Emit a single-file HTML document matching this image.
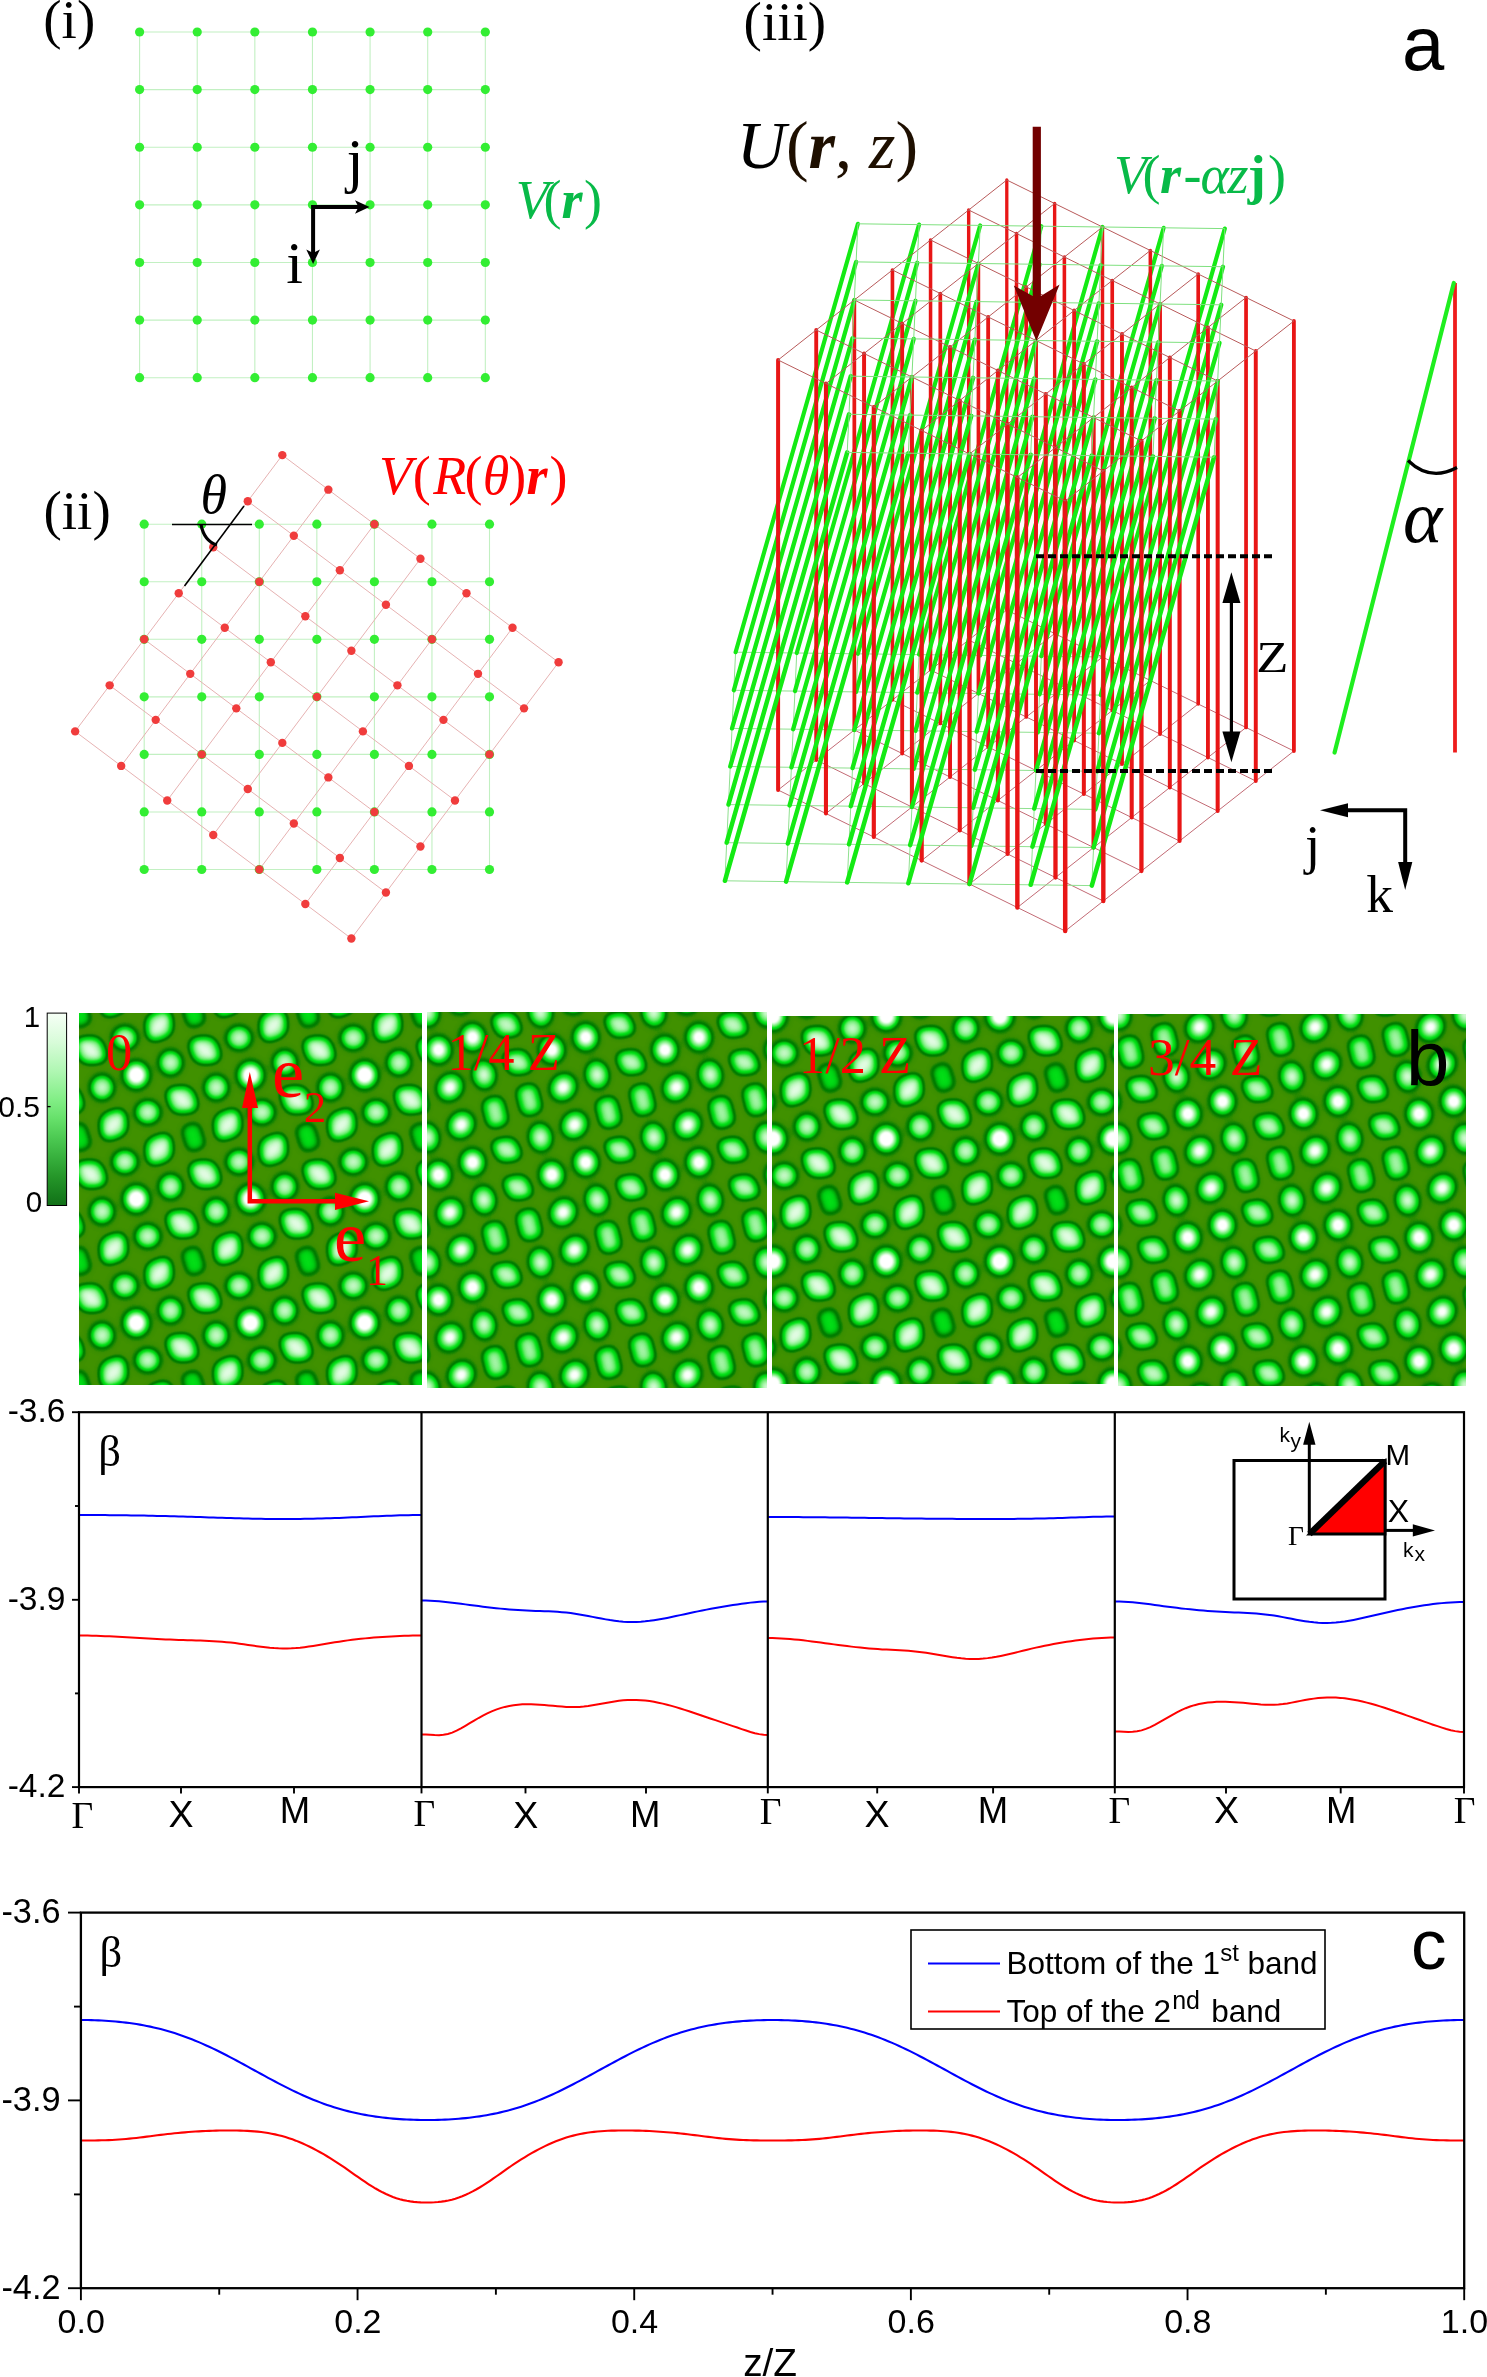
<!DOCTYPE html>
<html><head><meta charset="utf-8"><title>figure</title><style>
html,body{margin:0;padding:0;background:#fff;}
svg{display:block;}
.gr{stroke:#14ea14;}
.rr{stroke:#e81616;}
</style></head>
<body><svg width="1487" height="2377" viewBox="0 0 1487 2377">
<rect width="1487" height="2377" fill="#fff"/>
<g id="pa"><g stroke="#c2f0c2" stroke-width="1.1" fill="none"><line x1="139.6" y1="32" x2="485.32" y2="32"/><line x1="139.6" y1="32" x2="139.6" y2="377.72"/><line x1="139.6" y1="89.62" x2="485.32" y2="89.62"/><line x1="197.22" y1="32" x2="197.22" y2="377.72"/><line x1="139.6" y1="147.24" x2="485.32" y2="147.24"/><line x1="254.84" y1="32" x2="254.84" y2="377.72"/><line x1="139.6" y1="204.86" x2="485.32" y2="204.86"/><line x1="312.46" y1="32" x2="312.46" y2="377.72"/><line x1="139.6" y1="262.48" x2="485.32" y2="262.48"/><line x1="370.08" y1="32" x2="370.08" y2="377.72"/><line x1="139.6" y1="320.1" x2="485.32" y2="320.1"/><line x1="427.7" y1="32" x2="427.7" y2="377.72"/><line x1="139.6" y1="377.72" x2="485.32" y2="377.72"/><line x1="485.32" y1="32" x2="485.32" y2="377.72"/></g><g fill="#33ee33"><circle cx="139.6" cy="32" r="4.6"/><circle cx="139.6" cy="89.62" r="4.6"/><circle cx="139.6" cy="147.24" r="4.6"/><circle cx="139.6" cy="204.86" r="4.6"/><circle cx="139.6" cy="262.48" r="4.6"/><circle cx="139.6" cy="320.1" r="4.6"/><circle cx="139.6" cy="377.72" r="4.6"/><circle cx="197.22" cy="32" r="4.6"/><circle cx="197.22" cy="89.62" r="4.6"/><circle cx="197.22" cy="147.24" r="4.6"/><circle cx="197.22" cy="204.86" r="4.6"/><circle cx="197.22" cy="262.48" r="4.6"/><circle cx="197.22" cy="320.1" r="4.6"/><circle cx="197.22" cy="377.72" r="4.6"/><circle cx="254.84" cy="32" r="4.6"/><circle cx="254.84" cy="89.62" r="4.6"/><circle cx="254.84" cy="147.24" r="4.6"/><circle cx="254.84" cy="204.86" r="4.6"/><circle cx="254.84" cy="262.48" r="4.6"/><circle cx="254.84" cy="320.1" r="4.6"/><circle cx="254.84" cy="377.72" r="4.6"/><circle cx="312.46" cy="32" r="4.6"/><circle cx="312.46" cy="89.62" r="4.6"/><circle cx="312.46" cy="147.24" r="4.6"/><circle cx="312.46" cy="204.86" r="4.6"/><circle cx="312.46" cy="262.48" r="4.6"/><circle cx="312.46" cy="320.1" r="4.6"/><circle cx="312.46" cy="377.72" r="4.6"/><circle cx="370.08" cy="32" r="4.6"/><circle cx="370.08" cy="89.62" r="4.6"/><circle cx="370.08" cy="147.24" r="4.6"/><circle cx="370.08" cy="204.86" r="4.6"/><circle cx="370.08" cy="262.48" r="4.6"/><circle cx="370.08" cy="320.1" r="4.6"/><circle cx="370.08" cy="377.72" r="4.6"/><circle cx="427.7" cy="32" r="4.6"/><circle cx="427.7" cy="89.62" r="4.6"/><circle cx="427.7" cy="147.24" r="4.6"/><circle cx="427.7" cy="204.86" r="4.6"/><circle cx="427.7" cy="262.48" r="4.6"/><circle cx="427.7" cy="320.1" r="4.6"/><circle cx="427.7" cy="377.72" r="4.6"/><circle cx="485.32" cy="32" r="4.6"/><circle cx="485.32" cy="89.62" r="4.6"/><circle cx="485.32" cy="147.24" r="4.6"/><circle cx="485.32" cy="204.86" r="4.6"/><circle cx="485.32" cy="262.48" r="4.6"/><circle cx="485.32" cy="320.1" r="4.6"/><circle cx="485.32" cy="377.72" r="4.6"/></g>
<g stroke="#c2f0c2" stroke-width="1.1" fill="none"><line x1="144.2" y1="524.2" x2="489.5" y2="524.2"/><line x1="144.2" y1="524.2" x2="144.2" y2="869.5"/><line x1="144.2" y1="581.75" x2="489.5" y2="581.75"/><line x1="201.75" y1="524.2" x2="201.75" y2="869.5"/><line x1="144.2" y1="639.3" x2="489.5" y2="639.3"/><line x1="259.3" y1="524.2" x2="259.3" y2="869.5"/><line x1="144.2" y1="696.85" x2="489.5" y2="696.85"/><line x1="316.85" y1="524.2" x2="316.85" y2="869.5"/><line x1="144.2" y1="754.4" x2="489.5" y2="754.4"/><line x1="374.4" y1="524.2" x2="374.4" y2="869.5"/><line x1="144.2" y1="811.95" x2="489.5" y2="811.95"/><line x1="431.95" y1="524.2" x2="431.95" y2="869.5"/><line x1="144.2" y1="869.5" x2="489.5" y2="869.5"/><line x1="489.5" y1="524.2" x2="489.5" y2="869.5"/></g><g fill="#33ee33"><circle cx="144.2" cy="524.2" r="4.6"/><circle cx="144.2" cy="581.75" r="4.6"/><circle cx="144.2" cy="639.3" r="4.6"/><circle cx="144.2" cy="696.85" r="4.6"/><circle cx="144.2" cy="754.4" r="4.6"/><circle cx="144.2" cy="811.95" r="4.6"/><circle cx="144.2" cy="869.5" r="4.6"/><circle cx="201.75" cy="524.2" r="4.6"/><circle cx="201.75" cy="581.75" r="4.6"/><circle cx="201.75" cy="639.3" r="4.6"/><circle cx="201.75" cy="696.85" r="4.6"/><circle cx="201.75" cy="754.4" r="4.6"/><circle cx="201.75" cy="811.95" r="4.6"/><circle cx="201.75" cy="869.5" r="4.6"/><circle cx="259.3" cy="524.2" r="4.6"/><circle cx="259.3" cy="581.75" r="4.6"/><circle cx="259.3" cy="639.3" r="4.6"/><circle cx="259.3" cy="696.85" r="4.6"/><circle cx="259.3" cy="754.4" r="4.6"/><circle cx="259.3" cy="811.95" r="4.6"/><circle cx="259.3" cy="869.5" r="4.6"/><circle cx="316.85" cy="524.2" r="4.6"/><circle cx="316.85" cy="581.75" r="4.6"/><circle cx="316.85" cy="639.3" r="4.6"/><circle cx="316.85" cy="696.85" r="4.6"/><circle cx="316.85" cy="754.4" r="4.6"/><circle cx="316.85" cy="811.95" r="4.6"/><circle cx="316.85" cy="869.5" r="4.6"/><circle cx="374.4" cy="524.2" r="4.6"/><circle cx="374.4" cy="581.75" r="4.6"/><circle cx="374.4" cy="639.3" r="4.6"/><circle cx="374.4" cy="696.85" r="4.6"/><circle cx="374.4" cy="754.4" r="4.6"/><circle cx="374.4" cy="811.95" r="4.6"/><circle cx="374.4" cy="869.5" r="4.6"/><circle cx="431.95" cy="524.2" r="4.6"/><circle cx="431.95" cy="581.75" r="4.6"/><circle cx="431.95" cy="639.3" r="4.6"/><circle cx="431.95" cy="696.85" r="4.6"/><circle cx="431.95" cy="754.4" r="4.6"/><circle cx="431.95" cy="811.95" r="4.6"/><circle cx="431.95" cy="869.5" r="4.6"/><circle cx="489.5" cy="524.2" r="4.6"/><circle cx="489.5" cy="581.75" r="4.6"/><circle cx="489.5" cy="639.3" r="4.6"/><circle cx="489.5" cy="696.85" r="4.6"/><circle cx="489.5" cy="754.4" r="4.6"/><circle cx="489.5" cy="811.95" r="4.6"/><circle cx="489.5" cy="869.5" r="4.6"/></g><g stroke="#e6b2b2" stroke-width="1.0" fill="none"><line x1="282.32" y1="455.14" x2="558.56" y2="662.32"/><line x1="282.32" y1="455.14" x2="75.14" y2="731.38"/><line x1="247.79" y1="501.18" x2="524.03" y2="708.36"/><line x1="328.36" y1="489.67" x2="121.18" y2="765.91"/><line x1="213.26" y1="547.22" x2="489.5" y2="754.4"/><line x1="374.4" y1="524.2" x2="167.22" y2="800.44"/><line x1="178.73" y1="593.26" x2="454.97" y2="800.44"/><line x1="420.44" y1="558.73" x2="213.26" y2="834.97"/><line x1="144.2" y1="639.3" x2="420.44" y2="846.48"/><line x1="466.48" y1="593.26" x2="259.3" y2="869.5"/><line x1="109.67" y1="685.34" x2="385.91" y2="892.52"/><line x1="512.52" y1="627.79" x2="305.34" y2="904.03"/><line x1="75.14" y1="731.38" x2="351.38" y2="938.56"/><line x1="558.56" y1="662.32" x2="351.38" y2="938.56"/></g><g fill="#f03c3c"><circle cx="282.32" cy="455.14" r="4.2"/><circle cx="247.79" cy="501.18" r="4.2"/><circle cx="213.26" cy="547.22" r="4.2"/><circle cx="178.73" cy="593.26" r="4.2"/><circle cx="144.2" cy="639.3" r="4.2"/><circle cx="109.67" cy="685.34" r="4.2"/><circle cx="75.14" cy="731.38" r="4.2"/><circle cx="328.36" cy="489.67" r="4.2"/><circle cx="293.83" cy="535.71" r="4.2"/><circle cx="259.3" cy="581.75" r="4.2"/><circle cx="224.77" cy="627.79" r="4.2"/><circle cx="190.24" cy="673.83" r="4.2"/><circle cx="155.71" cy="719.87" r="4.2"/><circle cx="121.18" cy="765.91" r="4.2"/><circle cx="374.4" cy="524.2" r="4.2"/><circle cx="339.87" cy="570.24" r="4.2"/><circle cx="305.34" cy="616.28" r="4.2"/><circle cx="270.81" cy="662.32" r="4.2"/><circle cx="236.28" cy="708.36" r="4.2"/><circle cx="201.75" cy="754.4" r="4.2"/><circle cx="167.22" cy="800.44" r="4.2"/><circle cx="420.44" cy="558.73" r="4.2"/><circle cx="385.91" cy="604.77" r="4.2"/><circle cx="351.38" cy="650.81" r="4.2"/><circle cx="316.85" cy="696.85" r="4.2"/><circle cx="282.32" cy="742.89" r="4.2"/><circle cx="247.79" cy="788.93" r="4.2"/><circle cx="213.26" cy="834.97" r="4.2"/><circle cx="466.48" cy="593.26" r="4.2"/><circle cx="431.95" cy="639.3" r="4.2"/><circle cx="397.42" cy="685.34" r="4.2"/><circle cx="362.89" cy="731.38" r="4.2"/><circle cx="328.36" cy="777.42" r="4.2"/><circle cx="293.83" cy="823.46" r="4.2"/><circle cx="259.3" cy="869.5" r="4.2"/><circle cx="512.52" cy="627.79" r="4.2"/><circle cx="477.99" cy="673.83" r="4.2"/><circle cx="443.46" cy="719.87" r="4.2"/><circle cx="408.93" cy="765.91" r="4.2"/><circle cx="374.4" cy="811.95" r="4.2"/><circle cx="339.87" cy="857.99" r="4.2"/><circle cx="305.34" cy="904.03" r="4.2"/><circle cx="558.56" cy="662.32" r="4.2"/><circle cx="524.03" cy="708.36" r="4.2"/><circle cx="489.5" cy="754.4" r="4.2"/><circle cx="454.97" cy="800.44" r="4.2"/><circle cx="420.44" cy="846.48" r="4.2"/><circle cx="385.91" cy="892.52" r="4.2"/><circle cx="351.38" cy="938.56" r="4.2"/></g>
<g stroke="#c26a74" stroke-width="1" fill="none"><line x1="1006.79" y1="610" x2="1293.9" y2="751"/><line x1="1006.79" y1="610" x2="778.1" y2="790"/><line x1="968.67" y1="640" x2="1255.78" y2="781"/><line x1="1054.64" y1="633.5" x2="825.95" y2="813.5"/><line x1="930.56" y1="670" x2="1217.67" y2="811"/><line x1="1102.49" y1="657" x2="873.81" y2="837"/><line x1="892.44" y1="700" x2="1179.56" y2="841"/><line x1="1150.34" y1="680.5" x2="921.66" y2="860.5"/><line x1="854.33" y1="730" x2="1141.44" y2="871"/><line x1="1198.19" y1="704" x2="969.51" y2="884"/><line x1="816.22" y1="760" x2="1103.33" y2="901"/><line x1="1246.05" y1="727.5" x2="1017.36" y2="907.5"/><line x1="778.1" y1="790" x2="1065.21" y2="931"/><line x1="1293.9" y1="751" x2="1065.21" y2="931"/></g><g stroke="#8fe08f" stroke-width="1" fill="none"><line x1="735.59" y1="652.2" x2="1102.49" y2="657"/><line x1="735.59" y1="652.2" x2="724.91" y2="880.8"/><line x1="733.81" y1="690.3" x2="1100.71" y2="695.1"/><line x1="796.74" y1="653" x2="786.06" y2="881.6"/><line x1="732.03" y1="728.4" x2="1098.93" y2="733.2"/><line x1="857.89" y1="653.8" x2="847.21" y2="882.4"/><line x1="730.25" y1="766.5" x2="1097.15" y2="771.3"/><line x1="919.04" y1="654.6" x2="908.36" y2="883.2"/><line x1="728.47" y1="804.6" x2="1095.37" y2="809.4"/><line x1="980.19" y1="655.4" x2="969.51" y2="884"/><line x1="726.69" y1="842.7" x2="1093.59" y2="847.5"/><line x1="1041.34" y1="656.2" x2="1030.66" y2="884.8"/><line x1="724.91" y1="880.8" x2="1091.81" y2="885.6"/><line x1="1102.49" y1="657" x2="1091.81" y2="885.6"/></g><g stroke-linecap="round" fill="none"><line class="rr" stroke-width="3.29" x1="1006.79" y1="180" x2="1006.79" y2="610"/><line class="rr" stroke-width="3.38" x1="1054.64" y1="203.5" x2="1054.64" y2="633.5"/><line class="rr" stroke-width="3.41" x1="968.67" y1="210" x2="968.67" y2="640"/><line class="rr" stroke-width="3.46" x1="1102.49" y1="227" x2="1102.49" y2="657"/><line class="gr" stroke-width="4.17" x1="857.89" y1="223.8" x2="735.59" y2="652.2"/><line class="gr" stroke-width="4.17" x1="919.04" y1="224.6" x2="796.74" y2="653"/><line class="gr" stroke-width="4.17" x1="980.19" y1="225.4" x2="857.89" y2="653.8"/><line class="gr" stroke-width="4.17" x1="1041.34" y1="226.2" x2="919.04" y2="654.6"/><line class="gr" stroke-width="4.17" x1="1102.49" y1="227" x2="980.19" y2="655.4"/><line class="gr" stroke-width="4.17" x1="1163.64" y1="227.8" x2="1041.34" y2="656.2"/><line class="gr" stroke-width="4.17" x1="1224.79" y1="228.6" x2="1102.49" y2="657"/><line class="rr" stroke-width="3.49" x1="1016.52" y1="233.5" x2="1016.52" y2="663.5"/><line class="rr" stroke-width="3.52" x1="930.56" y1="240" x2="930.56" y2="670"/><line class="rr" stroke-width="3.55" x1="1150.34" y1="250.5" x2="1150.34" y2="680.5"/><line class="rr" stroke-width="3.58" x1="1064.38" y1="257" x2="1064.38" y2="687"/><line class="rr" stroke-width="3.61" x1="978.41" y1="263.5" x2="978.41" y2="693.5"/><line class="gr" stroke-width="4.23" x1="856.11" y1="261.9" x2="733.81" y2="690.3"/><line class="gr" stroke-width="4.23" x1="917.26" y1="262.7" x2="794.96" y2="691.1"/><line class="gr" stroke-width="4.23" x1="978.41" y1="263.5" x2="856.11" y2="691.9"/><line class="gr" stroke-width="4.23" x1="1039.56" y1="264.3" x2="917.26" y2="692.7"/><line class="gr" stroke-width="4.23" x1="1100.71" y1="265.1" x2="978.41" y2="693.5"/><line class="gr" stroke-width="4.23" x1="1161.86" y1="265.9" x2="1039.56" y2="694.3"/><line class="gr" stroke-width="4.23" x1="1223.01" y1="266.7" x2="1100.71" y2="695.1"/><line class="rr" stroke-width="3.64" x1="1198.19" y1="274" x2="1198.19" y2="704"/><line class="rr" stroke-width="3.64" x1="892.44" y1="270" x2="892.44" y2="700"/><line class="rr" stroke-width="3.67" x1="1112.23" y1="280.5" x2="1112.23" y2="710.5"/><line class="rr" stroke-width="3.70" x1="1026.26" y1="287" x2="1026.26" y2="717"/><line class="rr" stroke-width="3.73" x1="1246.05" y1="297.5" x2="1246.05" y2="727.5"/><line class="rr" stroke-width="3.73" x1="940.3" y1="293.5" x2="940.3" y2="723.5"/><line class="rr" stroke-width="3.75" x1="1160.08" y1="304" x2="1160.08" y2="734"/><line class="rr" stroke-width="3.75" x1="854.33" y1="300" x2="854.33" y2="730"/><line class="gr" stroke-width="4.29" x1="854.33" y1="300" x2="732.03" y2="728.4"/><line class="gr" stroke-width="4.29" x1="915.48" y1="300.8" x2="793.18" y2="729.2"/><line class="gr" stroke-width="4.29" x1="976.63" y1="301.6" x2="854.33" y2="730"/><line class="gr" stroke-width="4.29" x1="1037.78" y1="302.4" x2="915.48" y2="730.8"/><line class="gr" stroke-width="4.29" x1="1098.93" y1="303.2" x2="976.63" y2="731.6"/><line class="gr" stroke-width="4.29" x1="1160.08" y1="304" x2="1037.78" y2="732.4"/><line class="gr" stroke-width="4.29" x1="1221.23" y1="304.8" x2="1098.93" y2="733.2"/><line class="rr" stroke-width="3.78" x1="1074.11" y1="310.5" x2="1074.11" y2="740.5"/><line class="rr" stroke-width="3.81" x1="1293.9" y1="321" x2="1293.9" y2="751"/><line class="rr" stroke-width="3.81" x1="988.15" y1="317" x2="988.15" y2="747"/><line class="rr" stroke-width="3.84" x1="1207.93" y1="327.5" x2="1207.93" y2="757.5"/><line class="rr" stroke-width="3.84" x1="902.18" y1="323.5" x2="902.18" y2="753.5"/><line class="rr" stroke-width="3.87" x1="1121.97" y1="334" x2="1121.97" y2="764"/><line class="rr" stroke-width="3.87" x1="816.22" y1="330" x2="816.22" y2="760"/><line class="rr" stroke-width="3.90" x1="1036" y1="340.5" x2="1036" y2="770.5"/><line class="gr" stroke-width="4.35" x1="852.55" y1="338.1" x2="730.25" y2="766.5"/><line class="gr" stroke-width="4.35" x1="913.7" y1="338.9" x2="791.4" y2="767.3"/><line class="gr" stroke-width="4.35" x1="974.85" y1="339.7" x2="852.55" y2="768.1"/><line class="gr" stroke-width="4.35" x1="1036" y1="340.5" x2="913.7" y2="768.9"/><line class="gr" stroke-width="4.35" x1="1097.15" y1="341.3" x2="974.85" y2="769.7"/><line class="gr" stroke-width="4.35" x1="1158.3" y1="342.1" x2="1036" y2="770.5"/><line class="gr" stroke-width="4.35" x1="1219.45" y1="342.9" x2="1097.15" y2="771.3"/><line class="rr" stroke-width="3.93" x1="1255.78" y1="351" x2="1255.78" y2="781"/><line class="rr" stroke-width="3.93" x1="950.03" y1="347" x2="950.03" y2="777"/><line class="rr" stroke-width="3.96" x1="1169.82" y1="357.5" x2="1169.82" y2="787.5"/><line class="rr" stroke-width="3.96" x1="864.07" y1="353.5" x2="864.07" y2="783.5"/><line class="rr" stroke-width="3.99" x1="1083.85" y1="364" x2="1083.85" y2="794"/><line class="rr" stroke-width="3.99" x1="778.1" y1="360" x2="778.1" y2="790"/><line class="rr" stroke-width="4.02" x1="997.89" y1="370.5" x2="997.89" y2="800.5"/><line class="rr" stroke-width="4.04" x1="1217.67" y1="381" x2="1217.67" y2="811"/><line class="rr" stroke-width="4.04" x1="911.92" y1="377" x2="911.92" y2="807"/><line class="gr" stroke-width="4.41" x1="850.77" y1="376.2" x2="728.47" y2="804.6"/><line class="gr" stroke-width="4.41" x1="911.92" y1="377" x2="789.62" y2="805.4"/><line class="gr" stroke-width="4.41" x1="973.07" y1="377.8" x2="850.77" y2="806.2"/><line class="gr" stroke-width="4.41" x1="1034.22" y1="378.6" x2="911.92" y2="807"/><line class="gr" stroke-width="4.41" x1="1095.37" y1="379.4" x2="973.07" y2="807.8"/><line class="gr" stroke-width="4.41" x1="1156.52" y1="380.2" x2="1034.22" y2="808.6"/><line class="gr" stroke-width="4.41" x1="1217.67" y1="381" x2="1095.37" y2="809.4"/><line class="rr" stroke-width="4.07" x1="1131.7" y1="387.5" x2="1131.7" y2="817.5"/><line class="rr" stroke-width="4.07" x1="825.95" y1="383.5" x2="825.95" y2="813.5"/><line class="rr" stroke-width="4.10" x1="1045.74" y1="394" x2="1045.74" y2="824"/><line class="rr" stroke-width="4.13" x1="959.77" y1="400.5" x2="959.77" y2="830.5"/><line class="rr" stroke-width="4.16" x1="1179.56" y1="411" x2="1179.56" y2="841"/><line class="rr" stroke-width="4.16" x1="873.81" y1="407" x2="873.81" y2="837"/><line class="rr" stroke-width="4.19" x1="1093.59" y1="417.5" x2="1093.59" y2="847.5"/><line class="gr" stroke-width="4.47" x1="848.99" y1="414.3" x2="726.69" y2="842.7"/><line class="gr" stroke-width="4.47" x1="910.14" y1="415.1" x2="787.84" y2="843.5"/><line class="gr" stroke-width="4.47" x1="971.29" y1="415.9" x2="848.99" y2="844.3"/><line class="gr" stroke-width="4.47" x1="1032.44" y1="416.7" x2="910.14" y2="845.1"/><line class="gr" stroke-width="4.47" x1="1093.59" y1="417.5" x2="971.29" y2="845.9"/><line class="gr" stroke-width="4.47" x1="1154.74" y1="418.3" x2="1032.44" y2="846.7"/><line class="gr" stroke-width="4.47" x1="1215.89" y1="419.1" x2="1093.59" y2="847.5"/><line class="rr" stroke-width="4.22" x1="1007.62" y1="424" x2="1007.62" y2="854"/><line class="rr" stroke-width="4.25" x1="921.66" y1="430.5" x2="921.66" y2="860.5"/><line class="rr" stroke-width="4.28" x1="1141.44" y1="441" x2="1141.44" y2="871"/><line class="rr" stroke-width="4.31" x1="1055.48" y1="447.5" x2="1055.48" y2="877.5"/><line class="rr" stroke-width="4.33" x1="969.51" y1="454" x2="969.51" y2="884"/><line class="gr" stroke-width="4.53" x1="847.21" y1="452.4" x2="724.91" y2="880.8"/><line class="gr" stroke-width="4.53" x1="908.36" y1="453.2" x2="786.06" y2="881.6"/><line class="gr" stroke-width="4.53" x1="969.51" y1="454" x2="847.21" y2="882.4"/><line class="gr" stroke-width="4.53" x1="1030.66" y1="454.8" x2="908.36" y2="883.2"/><line class="gr" stroke-width="4.53" x1="1091.81" y1="455.6" x2="969.51" y2="884"/><line class="gr" stroke-width="4.53" x1="1152.96" y1="456.4" x2="1030.66" y2="884.8"/><line class="gr" stroke-width="4.53" x1="1214.11" y1="457.2" x2="1091.81" y2="885.6"/><line class="rr" stroke-width="4.39" x1="1103.33" y1="471" x2="1103.33" y2="901"/><line class="rr" stroke-width="4.42" x1="1017.36" y1="477.5" x2="1017.36" y2="907.5"/><line class="rr" stroke-width="4.51" x1="1065.21" y1="501" x2="1065.21" y2="931"/></g><g stroke="#b85a5a" stroke-width="1" fill="none"><line x1="1006.79" y1="180" x2="1293.9" y2="321"/><line x1="1006.79" y1="180" x2="778.1" y2="360"/><line x1="968.67" y1="210" x2="1255.78" y2="351"/><line x1="1054.64" y1="203.5" x2="825.95" y2="383.5"/><line x1="930.56" y1="240" x2="1217.67" y2="381"/><line x1="1102.49" y1="227" x2="873.81" y2="407"/><line x1="892.44" y1="270" x2="1179.56" y2="411"/><line x1="1150.34" y1="250.5" x2="921.66" y2="430.5"/><line x1="854.33" y1="300" x2="1141.44" y2="441"/><line x1="1198.19" y1="274" x2="969.51" y2="454"/><line x1="816.22" y1="330" x2="1103.33" y2="471"/><line x1="1246.05" y1="297.5" x2="1017.36" y2="477.5"/><line x1="778.1" y1="360" x2="1065.21" y2="501"/><line x1="1293.9" y1="321" x2="1065.21" y2="501"/></g><g stroke="#7fe07f" stroke-width="1" fill="none"><line x1="857.89" y1="223.8" x2="1224.79" y2="228.6"/><line x1="857.89" y1="223.8" x2="847.21" y2="452.4"/><line x1="856.11" y1="261.9" x2="1223.01" y2="266.7"/><line x1="919.04" y1="224.6" x2="908.36" y2="453.2"/><line x1="854.33" y1="300" x2="1221.23" y2="304.8"/><line x1="980.19" y1="225.4" x2="969.51" y2="454"/><line x1="852.55" y1="338.1" x2="1219.45" y2="342.9"/><line x1="1041.34" y1="226.2" x2="1030.66" y2="454.8"/><line x1="850.77" y1="376.2" x2="1217.67" y2="381"/><line x1="1102.49" y1="227" x2="1091.81" y2="455.6"/><line x1="848.99" y1="414.3" x2="1215.89" y2="419.1"/><line x1="1163.64" y1="227.8" x2="1152.96" y2="456.4"/><line x1="847.21" y1="452.4" x2="1214.11" y2="457.2"/><line x1="1224.79" y1="228.6" x2="1214.11" y2="457.2"/></g>
<text x="43.3" y="38" fill="#000" text-anchor="start" style="font-family:'Liberation Serif',serif;font-size:55px;" >(i)</text>
<text x="43.5" y="528.6" fill="#000" text-anchor="start" style="font-family:'Liberation Serif',serif;font-size:55px;" >(ii)</text>
<text x="743.6" y="39.5" fill="#000" text-anchor="start" style="font-family:'Liberation Serif',serif;font-size:55px;" >(iii)</text>
<text x="1402" y="69.6" fill="#000" text-anchor="start" style="font-family:'Liberation Sans',sans-serif;font-size:76px;" >a</text>
<g stroke="#000" stroke-width="4" fill="none"><path d="M359 207 H313.1 V253"/></g>
<path d="M369.5 207 L355 200.2 L358.5 207 L355 213.8 Z" fill="#000"/>
<path d="M313.1 264 L306.3 249.5 L313.1 253 L319.9 249.5 Z" fill="#000"/>
<text x="346.6" y="180.6" fill="#000" text-anchor="start" style="font-family:'Liberation Serif',serif;font-size:61.5px;" >j</text>
<text x="286.2" y="283" fill="#000" text-anchor="start" style="font-family:'Liberation Serif',serif;font-size:60px;" >i</text>
<text y="218.4" fill="#08ba48" style="font-family:'Liberation Serif',serif;font-size:54px;"><tspan x="515.7" font-style="italic">V</tspan><tspan x="543.6">(</tspan><tspan x="561.5" font-style="italic" font-weight="bold">r</tspan><tspan x="584">)</tspan></text>
<text y="493.6" fill="#ff0000" style="font-family:'Liberation Serif',serif;font-size:54px;"><tspan x="379.1" font-style="italic">V</tspan><tspan x="412.7">(</tspan><tspan x="433.2" font-style="italic">R</tspan><tspan x="464.5">(</tspan><tspan x="482.7" font-style="italic">θ</tspan><tspan x="508.2">)</tspan><tspan x="526.5" font-style="italic" font-weight="bold">r</tspan><tspan x="549.6">)</tspan></text>
<text x="200.4" y="513" fill="#000" text-anchor="start" style="font-family:'Liberation Serif',serif;font-size:54px;font-style:italic;" >θ</text>
<g stroke="#000" stroke-width="1.6" fill="none"><line x1="172" y1="524.5" x2="252" y2="524.5"/><line x1="184.5" y1="586" x2="244" y2="506"/></g>
<path d="M201 524.5 Q204 541 217 545" stroke="#000" stroke-width="3.2" fill="none"/>
<text x="736.8" y="168" fill="#1e0f00" style="font-family:'Liberation Serif',serif;font-size:68px;"><tspan font-style="italic" fill="#000">U</tspan>(<tspan font-style="italic" font-weight="bold">r</tspan>, <tspan font-style="italic">z</tspan>)</text>
<text y="192.5" fill="#08ba48" style="font-family:'Liberation Serif',serif;font-size:54px;"><tspan x="1114.1" font-style="italic">V</tspan><tspan x="1142.6">(</tspan><tspan x="1160.1" font-style="italic" font-weight="bold">r</tspan><tspan x="1183.5">-</tspan><tspan x="1200.6" font-style="italic">α</tspan><tspan x="1227.6" font-style="italic">z</tspan><tspan x="1247.8" font-weight="bold">j</tspan><tspan x="1267.9">)</tspan></text>
<path d="M1032.7 126.7 H1040.9 V296 L1059.6 284.4 L1036.4 341 L1013.8 285.5 L1032.7 296 Z" fill="#730000"/>
<g stroke="#000" stroke-width="4" stroke-dasharray="8 4" fill="none"><line x1="1036" y1="556.2" x2="1273" y2="556.2"/><line x1="1036" y1="771.1" x2="1273" y2="771.1"/></g>
<line x1="1231.4" y1="598" x2="1231.4" y2="736" stroke="#000" stroke-width="3.2"/>
<path d="M1231.4 572.2 L1222.4 603 H1240.4 Z" fill="#000"/>
<path d="M1231.4 762.2 L1222.4 731.5 H1240.4 Z" fill="#000"/>
<text transform="translate(1256.3 672.2) scale(1.17 1)" style="font-family:'Liberation Serif',serif;font-size:45px;">Z</text>
<line x1="1455" y1="283" x2="1455" y2="752.5" stroke="#ee1c1c" stroke-width="3.8" stroke-linecap="butt"/>
<line x1="1453.8" y1="283" x2="1334.6" y2="752.5" stroke="#1fee1f" stroke-width="4.2" stroke-linecap="round"/>
<path d="M1408 460.5 Q1430 482 1457 467.5" stroke="#000" stroke-width="3.2" fill="none"/>
<text x="1403" y="542.3" fill="#000" text-anchor="start" style="font-family:'Liberation Serif',serif;font-size:75px;font-style:italic;" >α</text>
<g stroke="#000" stroke-width="4" fill="none"><path d="M1346 810.3 H1405.2 V864"/></g>
<path d="M1320 810.3 L1348 803.3 V817.3 Z" fill="#000"/>
<path d="M1405.2 890 L1398.1 862 H1412.3 Z" fill="#000"/>
<text x="1304.9" y="862.5" fill="#000" text-anchor="start" style="font-family:'Liberation Serif',serif;font-size:55px;" >j</text>
<text x="1366.2" y="912.2" fill="#000" text-anchor="start" style="font-family:'Liberation Serif',serif;font-size:53.5px;" >k</text></g>
<g id="pb"><defs><filter id="cm" x="0" y="0" width="100%" height="100%" filterUnits="objectBoundingBox" color-interpolation-filters="sRGB">
<feGaussianBlur stdDeviation="1.3"/>
<feComponentTransfer><feFuncR type="table" tableValues="0.251 0.221 0.074 0.000 0.000 0.000 0.000 0.000 0.000 0.008 0.047 0.122 0.196 0.288 0.380 0.449 0.518 0.582 0.647 0.706 0.765 0.814 0.863 0.902 0.941 0.965 0.988 0.994 1.000 1.000 1.000 1.000 1.000 1.000 1.000 1.000 1.000 1.000 1.000 1.000 1.000"/><feFuncG type="table" tableValues="0.569 0.558 0.513 0.482 0.502 0.596 0.694 0.776 0.831 0.867 0.882 0.894 0.906 0.916 0.925 0.933 0.941 0.949 0.957 0.965 0.973 0.978 0.984 0.990 0.996 0.998 1.000 1.000 1.000 1.000 1.000 1.000 1.000 1.000 1.000 1.000 1.000 1.000 1.000 1.000 1.000"/><feFuncB type="table" tableValues="0.000 0.000 0.000 0.000 0.004 0.024 0.043 0.063 0.075 0.086 0.118 0.176 0.235 0.318 0.400 0.467 0.533 0.594 0.655 0.712 0.769 0.818 0.867 0.904 0.941 0.965 0.988 0.994 1.000 1.000 1.000 1.000 1.000 1.000 1.000 1.000 1.000 1.000 1.000 1.000 1.000"/><feFuncA type="linear" slope="0" intercept="1"/></feComponentTransfer>
</filter><radialGradient id="gW"><stop offset="0" stop-color="#fff" stop-opacity="1"/><stop offset="0.2532" stop-color="#fff" stop-opacity="0.65"/><stop offset="0.3376" stop-color="#fff" stop-opacity="0.47"/><stop offset="0.4219" stop-color="#fff" stop-opacity="0.35"/><stop offset="0.5148" stop-color="#fff" stop-opacity="0.22"/><stop offset="0.5781" stop-color="#fff" stop-opacity="0.12"/><stop offset="0.6160" stop-color="#fff" stop-opacity="0.09"/><stop offset="0.6751" stop-color="#fff" stop-opacity="0.06"/><stop offset="0.7257" stop-color="#fff" stop-opacity="0.04"/><stop offset="0.7890" stop-color="#fff" stop-opacity="0.03"/><stop offset="0.8734" stop-color="#fff" stop-opacity="0.01"/><stop offset="1.0000" stop-color="#fff" stop-opacity="0"/></radialGradient><radialGradient id="gM"><stop offset="0" stop-color="#fff" stop-opacity="0.52"/><stop offset="0.1927" stop-color="#fff" stop-opacity="0.46"/><stop offset="0.3486" stop-color="#fff" stop-opacity="0.36"/><stop offset="0.4725" stop-color="#fff" stop-opacity="0.22"/><stop offset="0.5413" stop-color="#fff" stop-opacity="0.12"/><stop offset="0.5826" stop-color="#fff" stop-opacity="0.09"/><stop offset="0.6468" stop-color="#fff" stop-opacity="0.06"/><stop offset="0.7018" stop-color="#fff" stop-opacity="0.04"/><stop offset="0.7706" stop-color="#fff" stop-opacity="0.03"/><stop offset="0.8624" stop-color="#fff" stop-opacity="0.01"/><stop offset="1.0000" stop-color="#fff" stop-opacity="0"/></radialGradient><radialGradient id="gL"><stop offset="0" stop-color="#fff" stop-opacity="0.58"/><stop offset="0.2091" stop-color="#fff" stop-opacity="0.52"/><stop offset="0.3802" stop-color="#fff" stop-opacity="0.42"/><stop offset="0.5627" stop-color="#fff" stop-opacity="0.22"/><stop offset="0.6198" stop-color="#fff" stop-opacity="0.12"/><stop offset="0.6540" stop-color="#fff" stop-opacity="0.09"/><stop offset="0.7072" stop-color="#fff" stop-opacity="0.06"/><stop offset="0.7529" stop-color="#fff" stop-opacity="0.04"/><stop offset="0.8099" stop-color="#fff" stop-opacity="0.03"/><stop offset="0.8859" stop-color="#fff" stop-opacity="0.01"/><stop offset="1.0000" stop-color="#fff" stop-opacity="0"/></radialGradient><radialGradient id="gD"><stop offset="0" stop-color="#fff" stop-opacity="0.21"/><stop offset="0.3509" stop-color="#fff" stop-opacity="0.2"/><stop offset="0.4956" stop-color="#fff" stop-opacity="0.16"/><stop offset="0.6053" stop-color="#fff" stop-opacity="0.09"/><stop offset="0.6667" stop-color="#fff" stop-opacity="0.06"/><stop offset="0.7193" stop-color="#fff" stop-opacity="0.04"/><stop offset="0.7807" stop-color="#fff" stop-opacity="0.03"/><stop offset="0.8684" stop-color="#fff" stop-opacity="0.01"/><stop offset="1.0000" stop-color="#fff" stop-opacity="0"/></radialGradient><radialGradient id="gV"><stop offset="0" stop-color="#fff" stop-opacity="0.92"/><stop offset="0.1638" stop-color="#fff" stop-opacity="0.65"/><stop offset="0.2845" stop-color="#fff" stop-opacity="0.47"/><stop offset="0.3836" stop-color="#fff" stop-opacity="0.35"/><stop offset="0.5043" stop-color="#fff" stop-opacity="0.22"/><stop offset="0.5690" stop-color="#fff" stop-opacity="0.12"/><stop offset="0.6078" stop-color="#fff" stop-opacity="0.09"/><stop offset="0.6681" stop-color="#fff" stop-opacity="0.06"/><stop offset="0.7198" stop-color="#fff" stop-opacity="0.04"/><stop offset="0.7845" stop-color="#fff" stop-opacity="0.03"/><stop offset="0.8707" stop-color="#fff" stop-opacity="0.01"/><stop offset="1.0000" stop-color="#fff" stop-opacity="0"/></radialGradient><radialGradient id="gB"><stop offset="0" stop-color="#fff" stop-opacity="0.72"/><stop offset="0.1064" stop-color="#fff" stop-opacity="0.65"/><stop offset="0.2553" stop-color="#fff" stop-opacity="0.47"/><stop offset="0.3617" stop-color="#fff" stop-opacity="0.35"/><stop offset="0.5106" stop-color="#fff" stop-opacity="0.22"/><stop offset="0.5745" stop-color="#fff" stop-opacity="0.12"/><stop offset="0.6128" stop-color="#fff" stop-opacity="0.09"/><stop offset="0.6723" stop-color="#fff" stop-opacity="0.06"/><stop offset="0.7234" stop-color="#fff" stop-opacity="0.04"/><stop offset="0.7872" stop-color="#fff" stop-opacity="0.03"/><stop offset="0.8723" stop-color="#fff" stop-opacity="0.01"/><stop offset="1.0000" stop-color="#fff" stop-opacity="0"/></radialGradient><radialGradient id="gP"><stop offset="0" stop-color="#fff" stop-opacity="0.56"/><stop offset="0.1923" stop-color="#fff" stop-opacity="0.47"/><stop offset="0.3504" stop-color="#fff" stop-opacity="0.35"/><stop offset="0.5085" stop-color="#fff" stop-opacity="0.22"/><stop offset="0.5726" stop-color="#fff" stop-opacity="0.12"/><stop offset="0.6111" stop-color="#fff" stop-opacity="0.09"/><stop offset="0.6709" stop-color="#fff" stop-opacity="0.06"/><stop offset="0.7222" stop-color="#fff" stop-opacity="0.04"/><stop offset="0.7863" stop-color="#fff" stop-opacity="0.03"/><stop offset="0.8718" stop-color="#fff" stop-opacity="0.01"/><stop offset="1.0000" stop-color="#fff" stop-opacity="0"/></radialGradient><radialGradient id="gE"><stop offset="0" stop-color="#fff" stop-opacity="0.43"/><stop offset="0.1581" stop-color="#fff" stop-opacity="0.4"/><stop offset="0.3320" stop-color="#fff" stop-opacity="0.35"/><stop offset="0.5455" stop-color="#fff" stop-opacity="0.22"/><stop offset="0.6047" stop-color="#fff" stop-opacity="0.12"/><stop offset="0.6403" stop-color="#fff" stop-opacity="0.09"/><stop offset="0.6957" stop-color="#fff" stop-opacity="0.06"/><stop offset="0.7431" stop-color="#fff" stop-opacity="0.04"/><stop offset="0.8024" stop-color="#fff" stop-opacity="0.03"/><stop offset="0.8814" stop-color="#fff" stop-opacity="0.01"/><stop offset="1.0000" stop-color="#fff" stop-opacity="0"/></radialGradient><radialGradient id="gQ"><stop offset="0" stop-color="#fff" stop-opacity="0.48"/><stop offset="0.1660" stop-color="#fff" stop-opacity="0.45"/><stop offset="0.3734" stop-color="#fff" stop-opacity="0.35"/><stop offset="0.5228" stop-color="#fff" stop-opacity="0.22"/><stop offset="0.5851" stop-color="#fff" stop-opacity="0.12"/><stop offset="0.6224" stop-color="#fff" stop-opacity="0.09"/><stop offset="0.6805" stop-color="#fff" stop-opacity="0.06"/><stop offset="0.7303" stop-color="#fff" stop-opacity="0.04"/><stop offset="0.7925" stop-color="#fff" stop-opacity="0.03"/><stop offset="0.8755" stop-color="#fff" stop-opacity="0.01"/><stop offset="1.0000" stop-color="#fff" stop-opacity="0"/></radialGradient><radialGradient id="gLc"><stop offset="0" stop-color="#fff" stop-opacity="0.14"/><stop offset="0.2593" stop-color="#fff" stop-opacity="0.12"/><stop offset="0.5556" stop-color="#fff" stop-opacity="0.07"/><stop offset="0.7778" stop-color="#fff" stop-opacity="0.03"/><stop offset="1.0000" stop-color="#fff" stop-opacity="0"/></radialGradient><radialGradient id="gQc"><stop offset="0" stop-color="#fff" stop-opacity="0.08"/><stop offset="0.3182" stop-color="#fff" stop-opacity="0.07"/><stop offset="0.6364" stop-color="#fff" stop-opacity="0.04"/><stop offset="1.0000" stop-color="#fff" stop-opacity="0"/></radialGradient><radialGradient id="gEc"><stop offset="0" stop-color="#fff" stop-opacity="0.06"/><stop offset="0.3182" stop-color="#fff" stop-opacity="0.05"/><stop offset="0.6364" stop-color="#fff" stop-opacity="0.03"/><stop offset="1.0000" stop-color="#fff" stop-opacity="0"/></radialGradient><linearGradient id="cbg" x1="0" y1="0" x2="0" y2="1"><stop offset="0" stop-color="#f6fff6"/><stop offset="0.15" stop-color="#d8fcd9"/><stop offset="0.3" stop-color="#b0f7b3"/><stop offset="0.45" stop-color="#82ee86"/><stop offset="0.55" stop-color="#66e06a"/><stop offset="0.65" stop-color="#4cc952"/><stop offset="0.75" stop-color="#37b03d"/><stop offset="0.85" stop-color="#259629"/><stop offset="0.95" stop-color="#177d1d"/><stop offset="1" stop-color="#126f18"/></linearGradient></defs>
<filter id="bl1" filterUnits="userSpaceOnUse" x="39.2" y="973.1" width="422.6" height="451.8" color-interpolation-filters="sRGB"><feGaussianBlur stdDeviation="3.5"/></filter><clipPath id="cp1"><rect x="79.2" y="1013.1" width="342.6" height="371.8"/></clipPath><g clip-path="url(#cp1)"><g filter="url(#cm)"><rect x="39.2" y="973.1" width="422.6" height="451.8" fill="#000"/><g filter="url(#bl1)" fill="#fff"><rect x="-12" y="-11.4" width="24" height="22.8" rx="7.5" transform="translate(67.78 1347.72) rotate(-5) skewX(13)" fill-opacity="0.5"/><rect x="-8.3" y="-12.3" width="16.6" height="24.6" rx="5" transform="translate(79.2 1384.9) rotate(-17)" fill-opacity="0.23"/><rect x="-12" y="-11.4" width="24" height="22.8" rx="7.5" transform="translate(67.78 1223.79) rotate(-5) skewX(13)" fill-opacity="0.5"/><rect x="-8.3" y="-12.3" width="16.6" height="24.6" rx="5" transform="translate(79.2 1260.97) rotate(-17)" fill-opacity="0.23"/><rect x="-12" y="-11.4" width="24" height="22.8" rx="7.5" transform="translate(90.62 1298.15) rotate(175) skewX(13)" fill-opacity="0.5"/><rect x="-12" y="-11.4" width="24" height="22.8" rx="7.5" transform="translate(113.46 1372.51) rotate(85) skewX(13)" fill-opacity="0.5"/><rect x="-12" y="-11.4" width="24" height="22.8" rx="7.5" transform="translate(67.78 1099.85) rotate(-5) skewX(13)" fill-opacity="0.5"/><rect x="-8.3" y="-12.3" width="16.6" height="24.6" rx="5" transform="translate(79.2 1137.03) rotate(-17)" fill-opacity="0.23"/><rect x="-12" y="-11.4" width="24" height="22.8" rx="7.5" transform="translate(90.62 1174.21) rotate(175) skewX(13)" fill-opacity="0.5"/><rect x="-12" y="-11.4" width="24" height="22.8" rx="7.5" transform="translate(113.46 1248.57) rotate(85) skewX(13)" fill-opacity="0.5"/><rect x="-12" y="-11.4" width="24" height="22.8" rx="7.5" transform="translate(159.14 1397.29) rotate(265) skewX(13)" fill-opacity="0.5"/><rect x="-8.3" y="-12.3" width="16.6" height="24.6" rx="5" transform="translate(79.2 1013.1) rotate(-17)" fill-opacity="0.23"/><rect x="-12" y="-11.4" width="24" height="22.8" rx="7.5" transform="translate(90.62 1050.28) rotate(175) skewX(13)" fill-opacity="0.5"/><rect x="-12" y="-11.4" width="24" height="22.8" rx="7.5" transform="translate(113.46 1124.64) rotate(85) skewX(13)" fill-opacity="0.5"/><rect x="-12" y="-11.4" width="24" height="22.8" rx="7.5" transform="translate(159.14 1273.36) rotate(265) skewX(13)" fill-opacity="0.5"/><rect x="-12" y="-11.4" width="24" height="22.8" rx="7.5" transform="translate(181.98 1347.72) rotate(-5) skewX(13)" fill-opacity="0.5"/><rect x="-8.3" y="-12.3" width="16.6" height="24.6" rx="5" transform="translate(193.4 1384.9) rotate(-17)" fill-opacity="0.23"/><rect x="-12" y="-11.4" width="24" height="22.8" rx="7.5" transform="translate(113.46 1000.71) rotate(85) skewX(13)" fill-opacity="0.5"/><rect x="-12" y="-11.4" width="24" height="22.8" rx="7.5" transform="translate(159.14 1149.43) rotate(265) skewX(13)" fill-opacity="0.5"/><rect x="-12" y="-11.4" width="24" height="22.8" rx="7.5" transform="translate(181.98 1223.79) rotate(-5) skewX(13)" fill-opacity="0.5"/><rect x="-8.3" y="-12.3" width="16.6" height="24.6" rx="5" transform="translate(193.4 1260.97) rotate(-17)" fill-opacity="0.23"/><rect x="-12" y="-11.4" width="24" height="22.8" rx="7.5" transform="translate(204.82 1298.15) rotate(175) skewX(13)" fill-opacity="0.5"/><rect x="-12" y="-11.4" width="24" height="22.8" rx="7.5" transform="translate(227.66 1372.51) rotate(85) skewX(13)" fill-opacity="0.5"/><rect x="-12" y="-11.4" width="24" height="22.8" rx="7.5" transform="translate(159.14 1025.49) rotate(265) skewX(13)" fill-opacity="0.5"/><rect x="-12" y="-11.4" width="24" height="22.8" rx="7.5" transform="translate(181.98 1099.85) rotate(-5) skewX(13)" fill-opacity="0.5"/><rect x="-8.3" y="-12.3" width="16.6" height="24.6" rx="5" transform="translate(193.4 1137.03) rotate(-17)" fill-opacity="0.23"/><rect x="-12" y="-11.4" width="24" height="22.8" rx="7.5" transform="translate(204.82 1174.21) rotate(175) skewX(13)" fill-opacity="0.5"/><rect x="-12" y="-11.4" width="24" height="22.8" rx="7.5" transform="translate(227.66 1248.57) rotate(85) skewX(13)" fill-opacity="0.5"/><rect x="-12" y="-11.4" width="24" height="22.8" rx="7.5" transform="translate(273.34 1397.29) rotate(265) skewX(13)" fill-opacity="0.5"/><rect x="-8.3" y="-12.3" width="16.6" height="24.6" rx="5" transform="translate(193.4 1013.1) rotate(-17)" fill-opacity="0.23"/><rect x="-12" y="-11.4" width="24" height="22.8" rx="7.5" transform="translate(204.82 1050.28) rotate(175) skewX(13)" fill-opacity="0.5"/><rect x="-12" y="-11.4" width="24" height="22.8" rx="7.5" transform="translate(227.66 1124.64) rotate(85) skewX(13)" fill-opacity="0.5"/><rect x="-12" y="-11.4" width="24" height="22.8" rx="7.5" transform="translate(273.34 1273.36) rotate(265) skewX(13)" fill-opacity="0.5"/><rect x="-12" y="-11.4" width="24" height="22.8" rx="7.5" transform="translate(296.18 1347.72) rotate(-5) skewX(13)" fill-opacity="0.5"/><rect x="-8.3" y="-12.3" width="16.6" height="24.6" rx="5" transform="translate(307.6 1384.9) rotate(-17)" fill-opacity="0.23"/><rect x="-12" y="-11.4" width="24" height="22.8" rx="7.5" transform="translate(227.66 1000.71) rotate(85) skewX(13)" fill-opacity="0.5"/><rect x="-12" y="-11.4" width="24" height="22.8" rx="7.5" transform="translate(273.34 1149.43) rotate(265) skewX(13)" fill-opacity="0.5"/><rect x="-12" y="-11.4" width="24" height="22.8" rx="7.5" transform="translate(296.18 1223.79) rotate(-5) skewX(13)" fill-opacity="0.5"/><rect x="-8.3" y="-12.3" width="16.6" height="24.6" rx="5" transform="translate(307.6 1260.97) rotate(-17)" fill-opacity="0.23"/><rect x="-12" y="-11.4" width="24" height="22.8" rx="7.5" transform="translate(319.02 1298.15) rotate(175) skewX(13)" fill-opacity="0.5"/><rect x="-12" y="-11.4" width="24" height="22.8" rx="7.5" transform="translate(341.86 1372.51) rotate(85) skewX(13)" fill-opacity="0.5"/><rect x="-12" y="-11.4" width="24" height="22.8" rx="7.5" transform="translate(273.34 1025.49) rotate(265) skewX(13)" fill-opacity="0.5"/><rect x="-12" y="-11.4" width="24" height="22.8" rx="7.5" transform="translate(296.18 1099.85) rotate(-5) skewX(13)" fill-opacity="0.5"/><rect x="-8.3" y="-12.3" width="16.6" height="24.6" rx="5" transform="translate(307.6 1137.03) rotate(-17)" fill-opacity="0.23"/><rect x="-12" y="-11.4" width="24" height="22.8" rx="7.5" transform="translate(319.02 1174.21) rotate(175) skewX(13)" fill-opacity="0.5"/><rect x="-12" y="-11.4" width="24" height="22.8" rx="7.5" transform="translate(341.86 1248.57) rotate(85) skewX(13)" fill-opacity="0.5"/><rect x="-12" y="-11.4" width="24" height="22.8" rx="7.5" transform="translate(387.54 1397.29) rotate(265) skewX(13)" fill-opacity="0.5"/><rect x="-8.3" y="-12.3" width="16.6" height="24.6" rx="5" transform="translate(307.6 1013.1) rotate(-17)" fill-opacity="0.23"/><rect x="-12" y="-11.4" width="24" height="22.8" rx="7.5" transform="translate(319.02 1050.28) rotate(175) skewX(13)" fill-opacity="0.5"/><rect x="-12" y="-11.4" width="24" height="22.8" rx="7.5" transform="translate(341.86 1124.64) rotate(85) skewX(13)" fill-opacity="0.5"/><rect x="-12" y="-11.4" width="24" height="22.8" rx="7.5" transform="translate(387.54 1273.36) rotate(265) skewX(13)" fill-opacity="0.5"/><rect x="-12" y="-11.4" width="24" height="22.8" rx="7.5" transform="translate(410.38 1347.72) rotate(-5) skewX(13)" fill-opacity="0.5"/><rect x="-8.3" y="-12.3" width="16.6" height="24.6" rx="5" transform="translate(421.8 1384.9) rotate(-17)" fill-opacity="0.23"/><rect x="-12" y="-11.4" width="24" height="22.8" rx="7.5" transform="translate(341.86 1000.71) rotate(85) skewX(13)" fill-opacity="0.5"/><rect x="-12" y="-11.4" width="24" height="22.8" rx="7.5" transform="translate(387.54 1149.43) rotate(265) skewX(13)" fill-opacity="0.5"/><rect x="-12" y="-11.4" width="24" height="22.8" rx="7.5" transform="translate(410.38 1223.79) rotate(-5) skewX(13)" fill-opacity="0.5"/><rect x="-8.3" y="-12.3" width="16.6" height="24.6" rx="5" transform="translate(421.8 1260.97) rotate(-17)" fill-opacity="0.23"/><rect x="-12" y="-11.4" width="24" height="22.8" rx="7.5" transform="translate(433.22 1298.15) rotate(175) skewX(13)" fill-opacity="0.5"/><rect x="-12" y="-11.4" width="24" height="22.8" rx="7.5" transform="translate(387.54 1025.49) rotate(265) skewX(13)" fill-opacity="0.5"/><rect x="-12" y="-11.4" width="24" height="22.8" rx="7.5" transform="translate(410.38 1099.85) rotate(-5) skewX(13)" fill-opacity="0.5"/><rect x="-8.3" y="-12.3" width="16.6" height="24.6" rx="5" transform="translate(421.8 1137.03) rotate(-17)" fill-opacity="0.23"/><rect x="-12" y="-11.4" width="24" height="22.8" rx="7.5" transform="translate(433.22 1174.21) rotate(175) skewX(13)" fill-opacity="0.5"/><rect x="-8.3" y="-12.3" width="16.6" height="24.6" rx="5" transform="translate(421.8 1013.1) rotate(-17)" fill-opacity="0.23"/><rect x="-12" y="-11.4" width="24" height="22.8" rx="7.5" transform="translate(433.22 1050.28) rotate(175) skewX(13)" fill-opacity="0.5"/></g><ellipse rx="21.8" ry="20.71" transform="translate(56.36 1310.54) rotate(90)" fill="url(#gM)"/><ellipse rx="13.5" ry="6.75" transform="translate(67.78 1347.72) rotate(47)" fill="url(#gLc)"/><ellipse rx="21.8" ry="20.71" transform="translate(56.36 1186.61) rotate(90)" fill="url(#gM)"/><ellipse rx="13.5" ry="6.75" transform="translate(67.78 1223.79) rotate(47)" fill="url(#gLc)"/><ellipse rx="13.5" ry="6.75" transform="translate(90.62 1298.15) rotate(227)" fill="url(#gLc)"/><ellipse rx="21.8" ry="20.71" transform="translate(102.04 1335.33) rotate(270)" fill="url(#gM)"/><ellipse rx="13.5" ry="6.75" transform="translate(113.46 1372.51) rotate(137)" fill="url(#gLc)"/><ellipse rx="21.8" ry="20.71" transform="translate(124.88 1409.69) rotate(360)" fill="url(#gM)"/><ellipse rx="21.8" ry="20.71" transform="translate(56.36 1062.67) rotate(90)" fill="url(#gM)"/><ellipse rx="13.5" ry="6.75" transform="translate(67.78 1099.85) rotate(47)" fill="url(#gLc)"/><ellipse rx="13.5" ry="6.75" transform="translate(90.62 1174.21) rotate(227)" fill="url(#gLc)"/><ellipse rx="21.8" ry="20.71" transform="translate(102.04 1211.39) rotate(270)" fill="url(#gM)"/><ellipse rx="13.5" ry="6.75" transform="translate(113.46 1248.57) rotate(137)" fill="url(#gLc)"/><ellipse rx="21.8" ry="20.71" transform="translate(124.88 1285.75) rotate(360)" fill="url(#gM)"/><ellipse rx="23.7" ry="22.51" transform="translate(136.3 1322.93) rotate(90)" fill="url(#gW)"/><ellipse rx="21.8" ry="20.71" transform="translate(147.72 1360.11) rotate(180)" fill="url(#gM)"/><ellipse rx="13.5" ry="6.75" transform="translate(159.14 1397.29) rotate(317)" fill="url(#gLc)"/><ellipse rx="13.5" ry="6.75" transform="translate(90.62 1050.28) rotate(227)" fill="url(#gLc)"/><ellipse rx="21.8" ry="20.71" transform="translate(102.04 1087.46) rotate(270)" fill="url(#gM)"/><ellipse rx="13.5" ry="6.75" transform="translate(113.46 1124.64) rotate(137)" fill="url(#gLc)"/><ellipse rx="21.8" ry="20.71" transform="translate(124.88 1161.82) rotate(360)" fill="url(#gM)"/><ellipse rx="23.7" ry="22.51" transform="translate(136.3 1199) rotate(90)" fill="url(#gW)"/><ellipse rx="21.8" ry="20.71" transform="translate(147.72 1236.18) rotate(180)" fill="url(#gM)"/><ellipse rx="13.5" ry="6.75" transform="translate(159.14 1273.36) rotate(317)" fill="url(#gLc)"/><ellipse rx="21.8" ry="20.71" transform="translate(170.56 1310.54) rotate(90)" fill="url(#gM)"/><ellipse rx="13.5" ry="6.75" transform="translate(181.98 1347.72) rotate(47)" fill="url(#gLc)"/><ellipse rx="13.5" ry="6.75" transform="translate(113.46 1000.71) rotate(137)" fill="url(#gLc)"/><ellipse rx="21.8" ry="20.71" transform="translate(124.88 1037.89) rotate(360)" fill="url(#gM)"/><ellipse rx="23.7" ry="22.51" transform="translate(136.3 1075.07) rotate(90)" fill="url(#gW)"/><ellipse rx="21.8" ry="20.71" transform="translate(147.72 1112.25) rotate(180)" fill="url(#gM)"/><ellipse rx="13.5" ry="6.75" transform="translate(159.14 1149.43) rotate(317)" fill="url(#gLc)"/><ellipse rx="21.8" ry="20.71" transform="translate(170.56 1186.61) rotate(90)" fill="url(#gM)"/><ellipse rx="13.5" ry="6.75" transform="translate(181.98 1223.79) rotate(47)" fill="url(#gLc)"/><ellipse rx="13.5" ry="6.75" transform="translate(204.82 1298.15) rotate(227)" fill="url(#gLc)"/><ellipse rx="21.8" ry="20.71" transform="translate(216.24 1335.33) rotate(270)" fill="url(#gM)"/><ellipse rx="13.5" ry="6.75" transform="translate(227.66 1372.51) rotate(137)" fill="url(#gLc)"/><ellipse rx="21.8" ry="20.71" transform="translate(239.08 1409.69) rotate(360)" fill="url(#gM)"/><ellipse rx="21.8" ry="20.71" transform="translate(147.72 988.31) rotate(180)" fill="url(#gM)"/><ellipse rx="13.5" ry="6.75" transform="translate(159.14 1025.49) rotate(317)" fill="url(#gLc)"/><ellipse rx="21.8" ry="20.71" transform="translate(170.56 1062.67) rotate(90)" fill="url(#gM)"/><ellipse rx="13.5" ry="6.75" transform="translate(181.98 1099.85) rotate(47)" fill="url(#gLc)"/><ellipse rx="13.5" ry="6.75" transform="translate(204.82 1174.21) rotate(227)" fill="url(#gLc)"/><ellipse rx="21.8" ry="20.71" transform="translate(216.24 1211.39) rotate(270)" fill="url(#gM)"/><ellipse rx="13.5" ry="6.75" transform="translate(227.66 1248.57) rotate(137)" fill="url(#gLc)"/><ellipse rx="21.8" ry="20.71" transform="translate(239.08 1285.75) rotate(360)" fill="url(#gM)"/><ellipse rx="23.7" ry="22.51" transform="translate(250.5 1322.93) rotate(90)" fill="url(#gW)"/><ellipse rx="21.8" ry="20.71" transform="translate(261.92 1360.11) rotate(180)" fill="url(#gM)"/><ellipse rx="13.5" ry="6.75" transform="translate(273.34 1397.29) rotate(317)" fill="url(#gLc)"/><ellipse rx="13.5" ry="6.75" transform="translate(204.82 1050.28) rotate(227)" fill="url(#gLc)"/><ellipse rx="21.8" ry="20.71" transform="translate(216.24 1087.46) rotate(270)" fill="url(#gM)"/><ellipse rx="13.5" ry="6.75" transform="translate(227.66 1124.64) rotate(137)" fill="url(#gLc)"/><ellipse rx="21.8" ry="20.71" transform="translate(239.08 1161.82) rotate(360)" fill="url(#gM)"/><ellipse rx="23.7" ry="22.51" transform="translate(250.5 1199) rotate(90)" fill="url(#gW)"/><ellipse rx="21.8" ry="20.71" transform="translate(261.92 1236.18) rotate(180)" fill="url(#gM)"/><ellipse rx="13.5" ry="6.75" transform="translate(273.34 1273.36) rotate(317)" fill="url(#gLc)"/><ellipse rx="21.8" ry="20.71" transform="translate(284.76 1310.54) rotate(90)" fill="url(#gM)"/><ellipse rx="13.5" ry="6.75" transform="translate(296.18 1347.72) rotate(47)" fill="url(#gLc)"/><ellipse rx="13.5" ry="6.75" transform="translate(227.66 1000.71) rotate(137)" fill="url(#gLc)"/><ellipse rx="21.8" ry="20.71" transform="translate(239.08 1037.89) rotate(360)" fill="url(#gM)"/><ellipse rx="23.7" ry="22.51" transform="translate(250.5 1075.07) rotate(90)" fill="url(#gW)"/><ellipse rx="21.8" ry="20.71" transform="translate(261.92 1112.25) rotate(180)" fill="url(#gM)"/><ellipse rx="13.5" ry="6.75" transform="translate(273.34 1149.43) rotate(317)" fill="url(#gLc)"/><ellipse rx="21.8" ry="20.71" transform="translate(284.76 1186.61) rotate(90)" fill="url(#gM)"/><ellipse rx="13.5" ry="6.75" transform="translate(296.18 1223.79) rotate(47)" fill="url(#gLc)"/><ellipse rx="13.5" ry="6.75" transform="translate(319.02 1298.15) rotate(227)" fill="url(#gLc)"/><ellipse rx="21.8" ry="20.71" transform="translate(330.44 1335.33) rotate(270)" fill="url(#gM)"/><ellipse rx="13.5" ry="6.75" transform="translate(341.86 1372.51) rotate(137)" fill="url(#gLc)"/><ellipse rx="21.8" ry="20.71" transform="translate(353.28 1409.69) rotate(360)" fill="url(#gM)"/><ellipse rx="21.8" ry="20.71" transform="translate(261.92 988.31) rotate(180)" fill="url(#gM)"/><ellipse rx="13.5" ry="6.75" transform="translate(273.34 1025.49) rotate(317)" fill="url(#gLc)"/><ellipse rx="21.8" ry="20.71" transform="translate(284.76 1062.67) rotate(90)" fill="url(#gM)"/><ellipse rx="13.5" ry="6.75" transform="translate(296.18 1099.85) rotate(47)" fill="url(#gLc)"/><ellipse rx="13.5" ry="6.75" transform="translate(319.02 1174.21) rotate(227)" fill="url(#gLc)"/><ellipse rx="21.8" ry="20.71" transform="translate(330.44 1211.39) rotate(270)" fill="url(#gM)"/><ellipse rx="13.5" ry="6.75" transform="translate(341.86 1248.57) rotate(137)" fill="url(#gLc)"/><ellipse rx="21.8" ry="20.71" transform="translate(353.28 1285.75) rotate(360)" fill="url(#gM)"/><ellipse rx="23.7" ry="22.51" transform="translate(364.7 1322.93) rotate(90)" fill="url(#gW)"/><ellipse rx="21.8" ry="20.71" transform="translate(376.12 1360.11) rotate(180)" fill="url(#gM)"/><ellipse rx="13.5" ry="6.75" transform="translate(387.54 1397.29) rotate(317)" fill="url(#gLc)"/><ellipse rx="13.5" ry="6.75" transform="translate(319.02 1050.28) rotate(227)" fill="url(#gLc)"/><ellipse rx="21.8" ry="20.71" transform="translate(330.44 1087.46) rotate(270)" fill="url(#gM)"/><ellipse rx="13.5" ry="6.75" transform="translate(341.86 1124.64) rotate(137)" fill="url(#gLc)"/><ellipse rx="21.8" ry="20.71" transform="translate(353.28 1161.82) rotate(360)" fill="url(#gM)"/><ellipse rx="23.7" ry="22.51" transform="translate(364.7 1199) rotate(90)" fill="url(#gW)"/><ellipse rx="21.8" ry="20.71" transform="translate(376.12 1236.18) rotate(180)" fill="url(#gM)"/><ellipse rx="13.5" ry="6.75" transform="translate(387.54 1273.36) rotate(317)" fill="url(#gLc)"/><ellipse rx="21.8" ry="20.71" transform="translate(398.96 1310.54) rotate(90)" fill="url(#gM)"/><ellipse rx="13.5" ry="6.75" transform="translate(410.38 1347.72) rotate(47)" fill="url(#gLc)"/><ellipse rx="13.5" ry="6.75" transform="translate(341.86 1000.71) rotate(137)" fill="url(#gLc)"/><ellipse rx="21.8" ry="20.71" transform="translate(353.28 1037.89) rotate(360)" fill="url(#gM)"/><ellipse rx="23.7" ry="22.51" transform="translate(364.7 1075.07) rotate(90)" fill="url(#gW)"/><ellipse rx="21.8" ry="20.71" transform="translate(376.12 1112.25) rotate(180)" fill="url(#gM)"/><ellipse rx="13.5" ry="6.75" transform="translate(387.54 1149.43) rotate(317)" fill="url(#gLc)"/><ellipse rx="21.8" ry="20.71" transform="translate(398.96 1186.61) rotate(90)" fill="url(#gM)"/><ellipse rx="13.5" ry="6.75" transform="translate(410.38 1223.79) rotate(47)" fill="url(#gLc)"/><ellipse rx="13.5" ry="6.75" transform="translate(433.22 1298.15) rotate(227)" fill="url(#gLc)"/><ellipse rx="21.8" ry="20.71" transform="translate(444.64 1335.33) rotate(270)" fill="url(#gM)"/><ellipse rx="21.8" ry="20.71" transform="translate(376.12 988.31) rotate(180)" fill="url(#gM)"/><ellipse rx="13.5" ry="6.75" transform="translate(387.54 1025.49) rotate(317)" fill="url(#gLc)"/><ellipse rx="21.8" ry="20.71" transform="translate(398.96 1062.67) rotate(90)" fill="url(#gM)"/><ellipse rx="13.5" ry="6.75" transform="translate(410.38 1099.85) rotate(47)" fill="url(#gLc)"/><ellipse rx="13.5" ry="6.75" transform="translate(433.22 1174.21) rotate(227)" fill="url(#gLc)"/><ellipse rx="21.8" ry="20.71" transform="translate(444.64 1211.39) rotate(270)" fill="url(#gM)"/><ellipse rx="13.5" ry="6.75" transform="translate(433.22 1050.28) rotate(227)" fill="url(#gLc)"/><ellipse rx="21.8" ry="20.71" transform="translate(444.64 1087.46) rotate(270)" fill="url(#gM)"/></g></g>
<filter id="bl2" filterUnits="userSpaceOnUse" x="387.3" y="972.3" width="419.6" height="455.1" color-interpolation-filters="sRGB"><feGaussianBlur stdDeviation="3.5"/></filter><clipPath id="cp2"><rect x="427.3" y="1012.3" width="339.6" height="375.1"/></clipPath><g clip-path="url(#cp2)"><g filter="url(#cm)"><rect x="387.3" y="972.3" width="419.6" height="455.1" fill="#000"/><g filter="url(#bl2)" fill="#fff"><rect x="-10.8" y="-9.8" width="21.6" height="19.6" rx="6" transform="translate(404.66 1312.38) rotate(-8) skewX(14)" fill-opacity="0.46"/><rect x="-8.8" y="-13.2" width="17.6" height="26.4" rx="5.5" transform="translate(415.98 1349.89) rotate(-14)" fill-opacity="0.42"/><rect x="-10.8" y="-9.8" width="21.6" height="19.6" rx="6" transform="translate(404.66 1187.35) rotate(-8) skewX(14)" fill-opacity="0.46"/><rect x="-8.8" y="-13.2" width="17.6" height="26.4" rx="5.5" transform="translate(415.98 1224.86) rotate(-14)" fill-opacity="0.42"/><rect x="-10.8" y="-9.8" width="21.6" height="19.6" rx="6" transform="translate(404.66 1062.31) rotate(-8) skewX(14)" fill-opacity="0.46"/><rect x="-8.8" y="-13.2" width="17.6" height="26.4" rx="5.5" transform="translate(415.98 1099.82) rotate(-14)" fill-opacity="0.42"/><rect x="-8.8" y="-13.2" width="17.6" height="26.4" rx="5.5" transform="translate(495.22 1362.39) rotate(-14)" fill-opacity="0.42"/><rect x="-10.8" y="-9.8" width="21.6" height="19.6" rx="6" transform="translate(506.54 1399.9) rotate(-8) skewX(14)" fill-opacity="0.46"/><rect x="-8.8" y="-13.2" width="17.6" height="26.4" rx="5.5" transform="translate(495.22 1237.36) rotate(-14)" fill-opacity="0.42"/><rect x="-10.8" y="-9.8" width="21.6" height="19.6" rx="6" transform="translate(506.54 1274.87) rotate(-8) skewX(14)" fill-opacity="0.46"/><rect x="-10.8" y="-9.8" width="21.6" height="19.6" rx="6" transform="translate(517.86 1312.38) rotate(-8) skewX(14)" fill-opacity="0.46"/><rect x="-8.8" y="-13.2" width="17.6" height="26.4" rx="5.5" transform="translate(529.18 1349.89) rotate(-14)" fill-opacity="0.42"/><rect x="-8.8" y="-13.2" width="17.6" height="26.4" rx="5.5" transform="translate(495.22 1112.33) rotate(-14)" fill-opacity="0.42"/><rect x="-10.8" y="-9.8" width="21.6" height="19.6" rx="6" transform="translate(506.54 1149.84) rotate(-8) skewX(14)" fill-opacity="0.46"/><rect x="-10.8" y="-9.8" width="21.6" height="19.6" rx="6" transform="translate(517.86 1187.35) rotate(-8) skewX(14)" fill-opacity="0.46"/><rect x="-8.8" y="-13.2" width="17.6" height="26.4" rx="5.5" transform="translate(529.18 1224.86) rotate(-14)" fill-opacity="0.42"/><rect x="-10.8" y="-9.8" width="21.6" height="19.6" rx="6" transform="translate(506.54 1024.8) rotate(-8) skewX(14)" fill-opacity="0.46"/><rect x="-10.8" y="-9.8" width="21.6" height="19.6" rx="6" transform="translate(517.86 1062.31) rotate(-8) skewX(14)" fill-opacity="0.46"/><rect x="-8.8" y="-13.2" width="17.6" height="26.4" rx="5.5" transform="translate(529.18 1099.82) rotate(-14)" fill-opacity="0.42"/><rect x="-8.8" y="-13.2" width="17.6" height="26.4" rx="5.5" transform="translate(608.42 1362.39) rotate(-14)" fill-opacity="0.42"/><rect x="-10.8" y="-9.8" width="21.6" height="19.6" rx="6" transform="translate(619.74 1399.9) rotate(-8) skewX(14)" fill-opacity="0.46"/><rect x="-8.8" y="-13.2" width="17.6" height="26.4" rx="5.5" transform="translate(608.42 1237.36) rotate(-14)" fill-opacity="0.42"/><rect x="-10.8" y="-9.8" width="21.6" height="19.6" rx="6" transform="translate(619.74 1274.87) rotate(-8) skewX(14)" fill-opacity="0.46"/><rect x="-10.8" y="-9.8" width="21.6" height="19.6" rx="6" transform="translate(631.06 1312.38) rotate(-8) skewX(14)" fill-opacity="0.46"/><rect x="-8.8" y="-13.2" width="17.6" height="26.4" rx="5.5" transform="translate(642.38 1349.89) rotate(-14)" fill-opacity="0.42"/><rect x="-8.8" y="-13.2" width="17.6" height="26.4" rx="5.5" transform="translate(608.42 1112.33) rotate(-14)" fill-opacity="0.42"/><rect x="-10.8" y="-9.8" width="21.6" height="19.6" rx="6" transform="translate(619.74 1149.84) rotate(-8) skewX(14)" fill-opacity="0.46"/><rect x="-10.8" y="-9.8" width="21.6" height="19.6" rx="6" transform="translate(631.06 1187.35) rotate(-8) skewX(14)" fill-opacity="0.46"/><rect x="-8.8" y="-13.2" width="17.6" height="26.4" rx="5.5" transform="translate(642.38 1224.86) rotate(-14)" fill-opacity="0.42"/><rect x="-10.8" y="-9.8" width="21.6" height="19.6" rx="6" transform="translate(619.74 1024.8) rotate(-8) skewX(14)" fill-opacity="0.46"/><rect x="-10.8" y="-9.8" width="21.6" height="19.6" rx="6" transform="translate(631.06 1062.31) rotate(-8) skewX(14)" fill-opacity="0.46"/><rect x="-8.8" y="-13.2" width="17.6" height="26.4" rx="5.5" transform="translate(642.38 1099.82) rotate(-14)" fill-opacity="0.42"/><rect x="-8.8" y="-13.2" width="17.6" height="26.4" rx="5.5" transform="translate(721.62 1362.39) rotate(-14)" fill-opacity="0.42"/><rect x="-10.8" y="-9.8" width="21.6" height="19.6" rx="6" transform="translate(732.94 1399.9) rotate(-8) skewX(14)" fill-opacity="0.46"/><rect x="-8.8" y="-13.2" width="17.6" height="26.4" rx="5.5" transform="translate(721.62 1237.36) rotate(-14)" fill-opacity="0.42"/><rect x="-10.8" y="-9.8" width="21.6" height="19.6" rx="6" transform="translate(732.94 1274.87) rotate(-8) skewX(14)" fill-opacity="0.46"/><rect x="-10.8" y="-9.8" width="21.6" height="19.6" rx="6" transform="translate(744.26 1312.38) rotate(-8) skewX(14)" fill-opacity="0.46"/><rect x="-8.8" y="-13.2" width="17.6" height="26.4" rx="5.5" transform="translate(755.58 1349.89) rotate(-14)" fill-opacity="0.42"/><rect x="-8.8" y="-13.2" width="17.6" height="26.4" rx="5.5" transform="translate(721.62 1112.33) rotate(-14)" fill-opacity="0.42"/><rect x="-10.8" y="-9.8" width="21.6" height="19.6" rx="6" transform="translate(732.94 1149.84) rotate(-8) skewX(14)" fill-opacity="0.46"/><rect x="-10.8" y="-9.8" width="21.6" height="19.6" rx="6" transform="translate(744.26 1187.35) rotate(-8) skewX(14)" fill-opacity="0.46"/><rect x="-8.8" y="-13.2" width="17.6" height="26.4" rx="5.5" transform="translate(755.58 1224.86) rotate(-14)" fill-opacity="0.42"/><rect x="-10.8" y="-9.8" width="21.6" height="19.6" rx="6" transform="translate(732.94 1024.8) rotate(-8) skewX(14)" fill-opacity="0.46"/><rect x="-10.8" y="-9.8" width="21.6" height="19.6" rx="6" transform="translate(744.26 1062.31) rotate(-8) skewX(14)" fill-opacity="0.46"/><rect x="-8.8" y="-13.2" width="17.6" height="26.4" rx="5.5" transform="translate(755.58 1099.82) rotate(-14)" fill-opacity="0.42"/></g><ellipse rx="11" ry="6.05" transform="translate(404.66 1312.38) rotate(40)" fill="url(#gQc)"/><ellipse rx="11" ry="5.5" transform="translate(415.98 1349.89) rotate(76)" fill="url(#gEc)"/><ellipse rx="23.4" ry="19.42" transform="translate(427.3 1387.4) rotate(80)" fill="url(#gP)"/><ellipse rx="11" ry="6.05" transform="translate(404.66 1187.35) rotate(40)" fill="url(#gQc)"/><ellipse rx="11" ry="5.5" transform="translate(415.98 1224.86) rotate(76)" fill="url(#gEc)"/><ellipse rx="23.4" ry="19.42" transform="translate(427.3 1262.37) rotate(80)" fill="url(#gP)"/><ellipse rx="23.2" ry="21.34" transform="translate(438.62 1299.88) rotate(85)" fill="url(#gV)"/><ellipse rx="23.5" ry="21.15" transform="translate(449.94 1337.39) rotate(-55)" fill="url(#gB)"/><ellipse rx="23.5" ry="21.15" transform="translate(461.26 1374.9) rotate(-55)" fill="url(#gB)"/><ellipse rx="11" ry="6.05" transform="translate(404.66 1062.31) rotate(40)" fill="url(#gQc)"/><ellipse rx="11" ry="5.5" transform="translate(415.98 1099.82) rotate(76)" fill="url(#gEc)"/><ellipse rx="23.4" ry="19.42" transform="translate(427.3 1137.33) rotate(80)" fill="url(#gP)"/><ellipse rx="23.2" ry="21.34" transform="translate(438.62 1174.84) rotate(85)" fill="url(#gV)"/><ellipse rx="23.5" ry="21.15" transform="translate(449.94 1212.35) rotate(-55)" fill="url(#gB)"/><ellipse rx="23.5" ry="21.15" transform="translate(461.26 1249.86) rotate(-55)" fill="url(#gB)"/><ellipse rx="23.2" ry="21.34" transform="translate(472.58 1287.37) rotate(85)" fill="url(#gV)"/><ellipse rx="23.4" ry="19.42" transform="translate(483.9 1324.88) rotate(80)" fill="url(#gP)"/><ellipse rx="11" ry="5.5" transform="translate(495.22 1362.39) rotate(76)" fill="url(#gEc)"/><ellipse rx="11" ry="6.05" transform="translate(506.54 1399.9) rotate(40)" fill="url(#gQc)"/><ellipse rx="23.4" ry="19.42" transform="translate(427.3 1012.3) rotate(80)" fill="url(#gP)"/><ellipse rx="23.2" ry="21.34" transform="translate(438.62 1049.81) rotate(85)" fill="url(#gV)"/><ellipse rx="23.5" ry="21.15" transform="translate(449.94 1087.32) rotate(-55)" fill="url(#gB)"/><ellipse rx="23.5" ry="21.15" transform="translate(461.26 1124.83) rotate(-55)" fill="url(#gB)"/><ellipse rx="23.2" ry="21.34" transform="translate(472.58 1162.34) rotate(85)" fill="url(#gV)"/><ellipse rx="23.4" ry="19.42" transform="translate(483.9 1199.85) rotate(80)" fill="url(#gP)"/><ellipse rx="11" ry="5.5" transform="translate(495.22 1237.36) rotate(76)" fill="url(#gEc)"/><ellipse rx="11" ry="6.05" transform="translate(506.54 1274.87) rotate(40)" fill="url(#gQc)"/><ellipse rx="11" ry="6.05" transform="translate(517.86 1312.38) rotate(40)" fill="url(#gQc)"/><ellipse rx="11" ry="5.5" transform="translate(529.18 1349.89) rotate(76)" fill="url(#gEc)"/><ellipse rx="23.4" ry="19.42" transform="translate(540.5 1387.4) rotate(80)" fill="url(#gP)"/><ellipse rx="23.5" ry="21.15" transform="translate(461.26 999.8) rotate(-55)" fill="url(#gB)"/><ellipse rx="23.2" ry="21.34" transform="translate(472.58 1037.31) rotate(85)" fill="url(#gV)"/><ellipse rx="23.4" ry="19.42" transform="translate(483.9 1074.82) rotate(80)" fill="url(#gP)"/><ellipse rx="11" ry="5.5" transform="translate(495.22 1112.33) rotate(76)" fill="url(#gEc)"/><ellipse rx="11" ry="6.05" transform="translate(506.54 1149.84) rotate(40)" fill="url(#gQc)"/><ellipse rx="11" ry="6.05" transform="translate(517.86 1187.35) rotate(40)" fill="url(#gQc)"/><ellipse rx="11" ry="5.5" transform="translate(529.18 1224.86) rotate(76)" fill="url(#gEc)"/><ellipse rx="23.4" ry="19.42" transform="translate(540.5 1262.37) rotate(80)" fill="url(#gP)"/><ellipse rx="23.2" ry="21.34" transform="translate(551.82 1299.88) rotate(85)" fill="url(#gV)"/><ellipse rx="23.5" ry="21.15" transform="translate(563.14 1337.39) rotate(-55)" fill="url(#gB)"/><ellipse rx="23.5" ry="21.15" transform="translate(574.46 1374.9) rotate(-55)" fill="url(#gB)"/><ellipse rx="11" ry="6.05" transform="translate(506.54 1024.8) rotate(40)" fill="url(#gQc)"/><ellipse rx="11" ry="6.05" transform="translate(517.86 1062.31) rotate(40)" fill="url(#gQc)"/><ellipse rx="11" ry="5.5" transform="translate(529.18 1099.82) rotate(76)" fill="url(#gEc)"/><ellipse rx="23.4" ry="19.42" transform="translate(540.5 1137.33) rotate(80)" fill="url(#gP)"/><ellipse rx="23.2" ry="21.34" transform="translate(551.82 1174.84) rotate(85)" fill="url(#gV)"/><ellipse rx="23.5" ry="21.15" transform="translate(563.14 1212.35) rotate(-55)" fill="url(#gB)"/><ellipse rx="23.5" ry="21.15" transform="translate(574.46 1249.86) rotate(-55)" fill="url(#gB)"/><ellipse rx="23.2" ry="21.34" transform="translate(585.78 1287.37) rotate(85)" fill="url(#gV)"/><ellipse rx="23.4" ry="19.42" transform="translate(597.1 1324.88) rotate(80)" fill="url(#gP)"/><ellipse rx="11" ry="5.5" transform="translate(608.42 1362.39) rotate(76)" fill="url(#gEc)"/><ellipse rx="11" ry="6.05" transform="translate(619.74 1399.9) rotate(40)" fill="url(#gQc)"/><ellipse rx="23.4" ry="19.42" transform="translate(540.5 1012.3) rotate(80)" fill="url(#gP)"/><ellipse rx="23.2" ry="21.34" transform="translate(551.82 1049.81) rotate(85)" fill="url(#gV)"/><ellipse rx="23.5" ry="21.15" transform="translate(563.14 1087.32) rotate(-55)" fill="url(#gB)"/><ellipse rx="23.5" ry="21.15" transform="translate(574.46 1124.83) rotate(-55)" fill="url(#gB)"/><ellipse rx="23.2" ry="21.34" transform="translate(585.78 1162.34) rotate(85)" fill="url(#gV)"/><ellipse rx="23.4" ry="19.42" transform="translate(597.1 1199.85) rotate(80)" fill="url(#gP)"/><ellipse rx="11" ry="5.5" transform="translate(608.42 1237.36) rotate(76)" fill="url(#gEc)"/><ellipse rx="11" ry="6.05" transform="translate(619.74 1274.87) rotate(40)" fill="url(#gQc)"/><ellipse rx="11" ry="6.05" transform="translate(631.06 1312.38) rotate(40)" fill="url(#gQc)"/><ellipse rx="11" ry="5.5" transform="translate(642.38 1349.89) rotate(76)" fill="url(#gEc)"/><ellipse rx="23.4" ry="19.42" transform="translate(653.7 1387.4) rotate(80)" fill="url(#gP)"/><ellipse rx="23.5" ry="21.15" transform="translate(574.46 999.8) rotate(-55)" fill="url(#gB)"/><ellipse rx="23.2" ry="21.34" transform="translate(585.78 1037.31) rotate(85)" fill="url(#gV)"/><ellipse rx="23.4" ry="19.42" transform="translate(597.1 1074.82) rotate(80)" fill="url(#gP)"/><ellipse rx="11" ry="5.5" transform="translate(608.42 1112.33) rotate(76)" fill="url(#gEc)"/><ellipse rx="11" ry="6.05" transform="translate(619.74 1149.84) rotate(40)" fill="url(#gQc)"/><ellipse rx="11" ry="6.05" transform="translate(631.06 1187.35) rotate(40)" fill="url(#gQc)"/><ellipse rx="11" ry="5.5" transform="translate(642.38 1224.86) rotate(76)" fill="url(#gEc)"/><ellipse rx="23.4" ry="19.42" transform="translate(653.7 1262.37) rotate(80)" fill="url(#gP)"/><ellipse rx="23.2" ry="21.34" transform="translate(665.02 1299.88) rotate(85)" fill="url(#gV)"/><ellipse rx="23.5" ry="21.15" transform="translate(676.34 1337.39) rotate(-55)" fill="url(#gB)"/><ellipse rx="23.5" ry="21.15" transform="translate(687.66 1374.9) rotate(-55)" fill="url(#gB)"/><ellipse rx="11" ry="6.05" transform="translate(619.74 1024.8) rotate(40)" fill="url(#gQc)"/><ellipse rx="11" ry="6.05" transform="translate(631.06 1062.31) rotate(40)" fill="url(#gQc)"/><ellipse rx="11" ry="5.5" transform="translate(642.38 1099.82) rotate(76)" fill="url(#gEc)"/><ellipse rx="23.4" ry="19.42" transform="translate(653.7 1137.33) rotate(80)" fill="url(#gP)"/><ellipse rx="23.2" ry="21.34" transform="translate(665.02 1174.84) rotate(85)" fill="url(#gV)"/><ellipse rx="23.5" ry="21.15" transform="translate(676.34 1212.35) rotate(-55)" fill="url(#gB)"/><ellipse rx="23.5" ry="21.15" transform="translate(687.66 1249.86) rotate(-55)" fill="url(#gB)"/><ellipse rx="23.2" ry="21.34" transform="translate(698.98 1287.37) rotate(85)" fill="url(#gV)"/><ellipse rx="23.4" ry="19.42" transform="translate(710.3 1324.88) rotate(80)" fill="url(#gP)"/><ellipse rx="11" ry="5.5" transform="translate(721.62 1362.39) rotate(76)" fill="url(#gEc)"/><ellipse rx="11" ry="6.05" transform="translate(732.94 1399.9) rotate(40)" fill="url(#gQc)"/><ellipse rx="23.4" ry="19.42" transform="translate(653.7 1012.3) rotate(80)" fill="url(#gP)"/><ellipse rx="23.2" ry="21.34" transform="translate(665.02 1049.81) rotate(85)" fill="url(#gV)"/><ellipse rx="23.5" ry="21.15" transform="translate(676.34 1087.32) rotate(-55)" fill="url(#gB)"/><ellipse rx="23.5" ry="21.15" transform="translate(687.66 1124.83) rotate(-55)" fill="url(#gB)"/><ellipse rx="23.2" ry="21.34" transform="translate(698.98 1162.34) rotate(85)" fill="url(#gV)"/><ellipse rx="23.4" ry="19.42" transform="translate(710.3 1199.85) rotate(80)" fill="url(#gP)"/><ellipse rx="11" ry="5.5" transform="translate(721.62 1237.36) rotate(76)" fill="url(#gEc)"/><ellipse rx="11" ry="6.05" transform="translate(732.94 1274.87) rotate(40)" fill="url(#gQc)"/><ellipse rx="11" ry="6.05" transform="translate(744.26 1312.38) rotate(40)" fill="url(#gQc)"/><ellipse rx="11" ry="5.5" transform="translate(755.58 1349.89) rotate(76)" fill="url(#gEc)"/><ellipse rx="23.4" ry="19.42" transform="translate(766.9 1387.4) rotate(80)" fill="url(#gP)"/><ellipse rx="23.5" ry="21.15" transform="translate(687.66 999.8) rotate(-55)" fill="url(#gB)"/><ellipse rx="23.2" ry="21.34" transform="translate(698.98 1037.31) rotate(85)" fill="url(#gV)"/><ellipse rx="23.4" ry="19.42" transform="translate(710.3 1074.82) rotate(80)" fill="url(#gP)"/><ellipse rx="11" ry="5.5" transform="translate(721.62 1112.33) rotate(76)" fill="url(#gEc)"/><ellipse rx="11" ry="6.05" transform="translate(732.94 1149.84) rotate(40)" fill="url(#gQc)"/><ellipse rx="11" ry="6.05" transform="translate(744.26 1187.35) rotate(40)" fill="url(#gQc)"/><ellipse rx="11" ry="5.5" transform="translate(755.58 1224.86) rotate(76)" fill="url(#gEc)"/><ellipse rx="23.4" ry="19.42" transform="translate(766.9 1262.37) rotate(80)" fill="url(#gP)"/><ellipse rx="23.2" ry="21.34" transform="translate(778.22 1299.88) rotate(85)" fill="url(#gV)"/><ellipse rx="23.5" ry="21.15" transform="translate(789.54 1337.39) rotate(-55)" fill="url(#gB)"/><ellipse rx="11" ry="6.05" transform="translate(732.94 1024.8) rotate(40)" fill="url(#gQc)"/><ellipse rx="11" ry="6.05" transform="translate(744.26 1062.31) rotate(40)" fill="url(#gQc)"/><ellipse rx="11" ry="5.5" transform="translate(755.58 1099.82) rotate(76)" fill="url(#gEc)"/><ellipse rx="23.4" ry="19.42" transform="translate(766.9 1137.33) rotate(80)" fill="url(#gP)"/><ellipse rx="23.2" ry="21.34" transform="translate(778.22 1174.84) rotate(85)" fill="url(#gV)"/><ellipse rx="23.5" ry="21.15" transform="translate(789.54 1212.35) rotate(-55)" fill="url(#gB)"/><ellipse rx="23.4" ry="19.42" transform="translate(766.9 1012.3) rotate(80)" fill="url(#gP)"/><ellipse rx="23.2" ry="21.34" transform="translate(778.22 1049.81) rotate(85)" fill="url(#gV)"/><ellipse rx="23.5" ry="21.15" transform="translate(789.54 1087.32) rotate(-55)" fill="url(#gB)"/></g></g>
<filter id="bl3" filterUnits="userSpaceOnUse" x="732.9" y="976.2" width="420.3" height="447.7" color-interpolation-filters="sRGB"><feGaussianBlur stdDeviation="3.5"/></filter><clipPath id="cp3"><rect x="772.9" y="1016.2" width="340.3" height="367.7"/></clipPath><g clip-path="url(#cp3)"><g filter="url(#cm)"><rect x="732.9" y="976.2" width="420.3" height="447.7" fill="#000"/><g filter="url(#bl3)" fill="#fff"><rect x="-12" y="-11.4" width="24" height="22.8" rx="7.5" transform="translate(750.21 1310.36) rotate(85) skewX(13)" fill-opacity="0.5"/><rect x="-12" y="-11.4" width="24" height="22.8" rx="7.5" transform="translate(750.21 1187.79) rotate(85) skewX(13)" fill-opacity="0.5"/><rect x="-12" y="-11.4" width="24" height="22.8" rx="7.5" transform="translate(795.59 1334.87) rotate(265) skewX(13)" fill-opacity="0.5"/><rect x="-12" y="-11.4" width="24" height="22.8" rx="7.5" transform="translate(818.27 1408.41) rotate(-5) skewX(13)" fill-opacity="0.5"/><rect x="-12" y="-11.4" width="24" height="22.8" rx="7.5" transform="translate(750.21 1065.23) rotate(85) skewX(13)" fill-opacity="0.5"/><rect x="-12" y="-11.4" width="24" height="22.8" rx="7.5" transform="translate(795.59 1212.31) rotate(265) skewX(13)" fill-opacity="0.5"/><rect x="-12" y="-11.4" width="24" height="22.8" rx="7.5" transform="translate(818.27 1285.85) rotate(-5) skewX(13)" fill-opacity="0.5"/><rect x="-8.3" y="-12.3" width="16.6" height="24.6" rx="5" transform="translate(829.62 1322.62) rotate(-17)" fill-opacity="0.23"/><rect x="-12" y="-11.4" width="24" height="22.8" rx="7.5" transform="translate(840.96 1359.39) rotate(175) skewX(13)" fill-opacity="0.5"/><rect x="-12" y="-11.4" width="24" height="22.8" rx="7.5" transform="translate(795.59 1089.74) rotate(265) skewX(13)" fill-opacity="0.5"/><rect x="-12" y="-11.4" width="24" height="22.8" rx="7.5" transform="translate(818.27 1163.28) rotate(-5) skewX(13)" fill-opacity="0.5"/><rect x="-8.3" y="-12.3" width="16.6" height="24.6" rx="5" transform="translate(829.62 1200.05) rotate(-17)" fill-opacity="0.23"/><rect x="-12" y="-11.4" width="24" height="22.8" rx="7.5" transform="translate(840.96 1236.82) rotate(175) skewX(13)" fill-opacity="0.5"/><rect x="-12" y="-11.4" width="24" height="22.8" rx="7.5" transform="translate(863.65 1310.36) rotate(85) skewX(13)" fill-opacity="0.5"/><rect x="-12" y="-11.4" width="24" height="22.8" rx="7.5" transform="translate(818.27 1040.71) rotate(-5) skewX(13)" fill-opacity="0.5"/><rect x="-8.3" y="-12.3" width="16.6" height="24.6" rx="5" transform="translate(829.62 1077.48) rotate(-17)" fill-opacity="0.23"/><rect x="-12" y="-11.4" width="24" height="22.8" rx="7.5" transform="translate(840.96 1114.25) rotate(175) skewX(13)" fill-opacity="0.5"/><rect x="-12" y="-11.4" width="24" height="22.8" rx="7.5" transform="translate(863.65 1187.79) rotate(85) skewX(13)" fill-opacity="0.5"/><rect x="-12" y="-11.4" width="24" height="22.8" rx="7.5" transform="translate(909.02 1334.87) rotate(265) skewX(13)" fill-opacity="0.5"/><rect x="-12" y="-11.4" width="24" height="22.8" rx="7.5" transform="translate(931.71 1408.41) rotate(-5) skewX(13)" fill-opacity="0.5"/><rect x="-12" y="-11.4" width="24" height="22.8" rx="7.5" transform="translate(840.96 991.69) rotate(175) skewX(13)" fill-opacity="0.5"/><rect x="-12" y="-11.4" width="24" height="22.8" rx="7.5" transform="translate(863.65 1065.23) rotate(85) skewX(13)" fill-opacity="0.5"/><rect x="-12" y="-11.4" width="24" height="22.8" rx="7.5" transform="translate(909.02 1212.31) rotate(265) skewX(13)" fill-opacity="0.5"/><rect x="-12" y="-11.4" width="24" height="22.8" rx="7.5" transform="translate(931.71 1285.85) rotate(-5) skewX(13)" fill-opacity="0.5"/><rect x="-8.3" y="-12.3" width="16.6" height="24.6" rx="5" transform="translate(943.05 1322.62) rotate(-17)" fill-opacity="0.23"/><rect x="-12" y="-11.4" width="24" height="22.8" rx="7.5" transform="translate(954.39 1359.39) rotate(175) skewX(13)" fill-opacity="0.5"/><rect x="-12" y="-11.4" width="24" height="22.8" rx="7.5" transform="translate(909.02 1089.74) rotate(265) skewX(13)" fill-opacity="0.5"/><rect x="-12" y="-11.4" width="24" height="22.8" rx="7.5" transform="translate(931.71 1163.28) rotate(-5) skewX(13)" fill-opacity="0.5"/><rect x="-8.3" y="-12.3" width="16.6" height="24.6" rx="5" transform="translate(943.05 1200.05) rotate(-17)" fill-opacity="0.23"/><rect x="-12" y="-11.4" width="24" height="22.8" rx="7.5" transform="translate(954.39 1236.82) rotate(175) skewX(13)" fill-opacity="0.5"/><rect x="-12" y="-11.4" width="24" height="22.8" rx="7.5" transform="translate(977.08 1310.36) rotate(85) skewX(13)" fill-opacity="0.5"/><rect x="-12" y="-11.4" width="24" height="22.8" rx="7.5" transform="translate(931.71 1040.71) rotate(-5) skewX(13)" fill-opacity="0.5"/><rect x="-8.3" y="-12.3" width="16.6" height="24.6" rx="5" transform="translate(943.05 1077.48) rotate(-17)" fill-opacity="0.23"/><rect x="-12" y="-11.4" width="24" height="22.8" rx="7.5" transform="translate(954.39 1114.25) rotate(175) skewX(13)" fill-opacity="0.5"/><rect x="-12" y="-11.4" width="24" height="22.8" rx="7.5" transform="translate(977.08 1187.79) rotate(85) skewX(13)" fill-opacity="0.5"/><rect x="-12" y="-11.4" width="24" height="22.8" rx="7.5" transform="translate(1022.45 1334.87) rotate(265) skewX(13)" fill-opacity="0.5"/><rect x="-12" y="-11.4" width="24" height="22.8" rx="7.5" transform="translate(1045.14 1408.41) rotate(-5) skewX(13)" fill-opacity="0.5"/><rect x="-12" y="-11.4" width="24" height="22.8" rx="7.5" transform="translate(954.39 991.69) rotate(175) skewX(13)" fill-opacity="0.5"/><rect x="-12" y="-11.4" width="24" height="22.8" rx="7.5" transform="translate(977.08 1065.23) rotate(85) skewX(13)" fill-opacity="0.5"/><rect x="-12" y="-11.4" width="24" height="22.8" rx="7.5" transform="translate(1022.45 1212.31) rotate(265) skewX(13)" fill-opacity="0.5"/><rect x="-12" y="-11.4" width="24" height="22.8" rx="7.5" transform="translate(1045.14 1285.85) rotate(-5) skewX(13)" fill-opacity="0.5"/><rect x="-8.3" y="-12.3" width="16.6" height="24.6" rx="5" transform="translate(1056.48 1322.62) rotate(-17)" fill-opacity="0.23"/><rect x="-12" y="-11.4" width="24" height="22.8" rx="7.5" transform="translate(1067.83 1359.39) rotate(175) skewX(13)" fill-opacity="0.5"/><rect x="-12" y="-11.4" width="24" height="22.8" rx="7.5" transform="translate(1022.45 1089.74) rotate(265) skewX(13)" fill-opacity="0.5"/><rect x="-12" y="-11.4" width="24" height="22.8" rx="7.5" transform="translate(1045.14 1163.28) rotate(-5) skewX(13)" fill-opacity="0.5"/><rect x="-8.3" y="-12.3" width="16.6" height="24.6" rx="5" transform="translate(1056.48 1200.05) rotate(-17)" fill-opacity="0.23"/><rect x="-12" y="-11.4" width="24" height="22.8" rx="7.5" transform="translate(1067.83 1236.82) rotate(175) skewX(13)" fill-opacity="0.5"/><rect x="-12" y="-11.4" width="24" height="22.8" rx="7.5" transform="translate(1090.51 1310.36) rotate(85) skewX(13)" fill-opacity="0.5"/><rect x="-12" y="-11.4" width="24" height="22.8" rx="7.5" transform="translate(1045.14 1040.71) rotate(-5) skewX(13)" fill-opacity="0.5"/><rect x="-8.3" y="-12.3" width="16.6" height="24.6" rx="5" transform="translate(1056.48 1077.48) rotate(-17)" fill-opacity="0.23"/><rect x="-12" y="-11.4" width="24" height="22.8" rx="7.5" transform="translate(1067.83 1114.25) rotate(175) skewX(13)" fill-opacity="0.5"/><rect x="-12" y="-11.4" width="24" height="22.8" rx="7.5" transform="translate(1090.51 1187.79) rotate(85) skewX(13)" fill-opacity="0.5"/><rect x="-12" y="-11.4" width="24" height="22.8" rx="7.5" transform="translate(1135.89 1334.87) rotate(265) skewX(13)" fill-opacity="0.5"/><rect x="-12" y="-11.4" width="24" height="22.8" rx="7.5" transform="translate(1067.83 991.69) rotate(175) skewX(13)" fill-opacity="0.5"/><rect x="-12" y="-11.4" width="24" height="22.8" rx="7.5" transform="translate(1090.51 1065.23) rotate(85) skewX(13)" fill-opacity="0.5"/><rect x="-12" y="-11.4" width="24" height="22.8" rx="7.5" transform="translate(1135.89 1212.31) rotate(265) skewX(13)" fill-opacity="0.5"/><rect x="-12" y="-11.4" width="24" height="22.8" rx="7.5" transform="translate(1135.89 1089.74) rotate(265) skewX(13)" fill-opacity="0.5"/></g><ellipse rx="13.5" ry="6.75" transform="translate(750.21 1310.36) rotate(137)" fill="url(#gLc)"/><ellipse rx="21.8" ry="20.71" transform="translate(761.56 1347.13) rotate(360)" fill="url(#gM)"/><ellipse rx="23.7" ry="22.51" transform="translate(772.9 1383.9) rotate(90)" fill="url(#gW)"/><ellipse rx="13.5" ry="6.75" transform="translate(750.21 1187.79) rotate(137)" fill="url(#gLc)"/><ellipse rx="21.8" ry="20.71" transform="translate(761.56 1224.56) rotate(360)" fill="url(#gM)"/><ellipse rx="23.7" ry="22.51" transform="translate(772.9 1261.33) rotate(90)" fill="url(#gW)"/><ellipse rx="21.8" ry="20.71" transform="translate(784.24 1298.1) rotate(180)" fill="url(#gM)"/><ellipse rx="13.5" ry="6.75" transform="translate(795.59 1334.87) rotate(317)" fill="url(#gLc)"/><ellipse rx="21.8" ry="20.71" transform="translate(806.93 1371.64) rotate(90)" fill="url(#gM)"/><ellipse rx="13.5" ry="6.75" transform="translate(818.27 1408.41) rotate(47)" fill="url(#gLc)"/><ellipse rx="13.5" ry="6.75" transform="translate(750.21 1065.23) rotate(137)" fill="url(#gLc)"/><ellipse rx="21.8" ry="20.71" transform="translate(761.56 1102) rotate(360)" fill="url(#gM)"/><ellipse rx="23.7" ry="22.51" transform="translate(772.9 1138.77) rotate(90)" fill="url(#gW)"/><ellipse rx="21.8" ry="20.71" transform="translate(784.24 1175.54) rotate(180)" fill="url(#gM)"/><ellipse rx="13.5" ry="6.75" transform="translate(795.59 1212.31) rotate(317)" fill="url(#gLc)"/><ellipse rx="21.8" ry="20.71" transform="translate(806.93 1249.08) rotate(90)" fill="url(#gM)"/><ellipse rx="13.5" ry="6.75" transform="translate(818.27 1285.85) rotate(47)" fill="url(#gLc)"/><ellipse rx="13.5" ry="6.75" transform="translate(840.96 1359.39) rotate(227)" fill="url(#gLc)"/><ellipse rx="21.8" ry="20.71" transform="translate(852.3 1396.16) rotate(270)" fill="url(#gM)"/><ellipse rx="23.7" ry="22.51" transform="translate(772.9 1016.2) rotate(90)" fill="url(#gW)"/><ellipse rx="21.8" ry="20.71" transform="translate(784.24 1052.97) rotate(180)" fill="url(#gM)"/><ellipse rx="13.5" ry="6.75" transform="translate(795.59 1089.74) rotate(317)" fill="url(#gLc)"/><ellipse rx="21.8" ry="20.71" transform="translate(806.93 1126.51) rotate(90)" fill="url(#gM)"/><ellipse rx="13.5" ry="6.75" transform="translate(818.27 1163.28) rotate(47)" fill="url(#gLc)"/><ellipse rx="13.5" ry="6.75" transform="translate(840.96 1236.82) rotate(227)" fill="url(#gLc)"/><ellipse rx="21.8" ry="20.71" transform="translate(852.3 1273.59) rotate(270)" fill="url(#gM)"/><ellipse rx="13.5" ry="6.75" transform="translate(863.65 1310.36) rotate(137)" fill="url(#gLc)"/><ellipse rx="21.8" ry="20.71" transform="translate(874.99 1347.13) rotate(360)" fill="url(#gM)"/><ellipse rx="23.7" ry="22.51" transform="translate(886.33 1383.9) rotate(90)" fill="url(#gW)"/><ellipse rx="21.8" ry="20.71" transform="translate(806.93 1003.94) rotate(90)" fill="url(#gM)"/><ellipse rx="13.5" ry="6.75" transform="translate(818.27 1040.71) rotate(47)" fill="url(#gLc)"/><ellipse rx="13.5" ry="6.75" transform="translate(840.96 1114.25) rotate(227)" fill="url(#gLc)"/><ellipse rx="21.8" ry="20.71" transform="translate(852.3 1151.02) rotate(270)" fill="url(#gM)"/><ellipse rx="13.5" ry="6.75" transform="translate(863.65 1187.79) rotate(137)" fill="url(#gLc)"/><ellipse rx="21.8" ry="20.71" transform="translate(874.99 1224.56) rotate(360)" fill="url(#gM)"/><ellipse rx="23.7" ry="22.51" transform="translate(886.33 1261.33) rotate(90)" fill="url(#gW)"/><ellipse rx="21.8" ry="20.71" transform="translate(897.68 1298.1) rotate(180)" fill="url(#gM)"/><ellipse rx="13.5" ry="6.75" transform="translate(909.02 1334.87) rotate(317)" fill="url(#gLc)"/><ellipse rx="21.8" ry="20.71" transform="translate(920.36 1371.64) rotate(90)" fill="url(#gM)"/><ellipse rx="13.5" ry="6.75" transform="translate(931.71 1408.41) rotate(47)" fill="url(#gLc)"/><ellipse rx="13.5" ry="6.75" transform="translate(840.96 991.69) rotate(227)" fill="url(#gLc)"/><ellipse rx="21.8" ry="20.71" transform="translate(852.3 1028.46) rotate(270)" fill="url(#gM)"/><ellipse rx="13.5" ry="6.75" transform="translate(863.65 1065.23) rotate(137)" fill="url(#gLc)"/><ellipse rx="21.8" ry="20.71" transform="translate(874.99 1102) rotate(360)" fill="url(#gM)"/><ellipse rx="23.7" ry="22.51" transform="translate(886.33 1138.77) rotate(90)" fill="url(#gW)"/><ellipse rx="21.8" ry="20.71" transform="translate(897.68 1175.54) rotate(180)" fill="url(#gM)"/><ellipse rx="13.5" ry="6.75" transform="translate(909.02 1212.31) rotate(317)" fill="url(#gLc)"/><ellipse rx="21.8" ry="20.71" transform="translate(920.36 1249.08) rotate(90)" fill="url(#gM)"/><ellipse rx="13.5" ry="6.75" transform="translate(931.71 1285.85) rotate(47)" fill="url(#gLc)"/><ellipse rx="13.5" ry="6.75" transform="translate(954.39 1359.39) rotate(227)" fill="url(#gLc)"/><ellipse rx="21.8" ry="20.71" transform="translate(965.74 1396.16) rotate(270)" fill="url(#gM)"/><ellipse rx="23.7" ry="22.51" transform="translate(886.33 1016.2) rotate(90)" fill="url(#gW)"/><ellipse rx="21.8" ry="20.71" transform="translate(897.68 1052.97) rotate(180)" fill="url(#gM)"/><ellipse rx="13.5" ry="6.75" transform="translate(909.02 1089.74) rotate(317)" fill="url(#gLc)"/><ellipse rx="21.8" ry="20.71" transform="translate(920.36 1126.51) rotate(90)" fill="url(#gM)"/><ellipse rx="13.5" ry="6.75" transform="translate(931.71 1163.28) rotate(47)" fill="url(#gLc)"/><ellipse rx="13.5" ry="6.75" transform="translate(954.39 1236.82) rotate(227)" fill="url(#gLc)"/><ellipse rx="21.8" ry="20.71" transform="translate(965.74 1273.59) rotate(270)" fill="url(#gM)"/><ellipse rx="13.5" ry="6.75" transform="translate(977.08 1310.36) rotate(137)" fill="url(#gLc)"/><ellipse rx="21.8" ry="20.71" transform="translate(988.42 1347.13) rotate(360)" fill="url(#gM)"/><ellipse rx="23.7" ry="22.51" transform="translate(999.77 1383.9) rotate(90)" fill="url(#gW)"/><ellipse rx="21.8" ry="20.71" transform="translate(920.36 1003.94) rotate(90)" fill="url(#gM)"/><ellipse rx="13.5" ry="6.75" transform="translate(931.71 1040.71) rotate(47)" fill="url(#gLc)"/><ellipse rx="13.5" ry="6.75" transform="translate(954.39 1114.25) rotate(227)" fill="url(#gLc)"/><ellipse rx="21.8" ry="20.71" transform="translate(965.74 1151.02) rotate(270)" fill="url(#gM)"/><ellipse rx="13.5" ry="6.75" transform="translate(977.08 1187.79) rotate(137)" fill="url(#gLc)"/><ellipse rx="21.8" ry="20.71" transform="translate(988.42 1224.56) rotate(360)" fill="url(#gM)"/><ellipse rx="23.7" ry="22.51" transform="translate(999.77 1261.33) rotate(90)" fill="url(#gW)"/><ellipse rx="21.8" ry="20.71" transform="translate(1011.11 1298.1) rotate(180)" fill="url(#gM)"/><ellipse rx="13.5" ry="6.75" transform="translate(1022.45 1334.87) rotate(317)" fill="url(#gLc)"/><ellipse rx="21.8" ry="20.71" transform="translate(1033.8 1371.64) rotate(90)" fill="url(#gM)"/><ellipse rx="13.5" ry="6.75" transform="translate(1045.14 1408.41) rotate(47)" fill="url(#gLc)"/><ellipse rx="13.5" ry="6.75" transform="translate(954.39 991.69) rotate(227)" fill="url(#gLc)"/><ellipse rx="21.8" ry="20.71" transform="translate(965.74 1028.46) rotate(270)" fill="url(#gM)"/><ellipse rx="13.5" ry="6.75" transform="translate(977.08 1065.23) rotate(137)" fill="url(#gLc)"/><ellipse rx="21.8" ry="20.71" transform="translate(988.42 1102) rotate(360)" fill="url(#gM)"/><ellipse rx="23.7" ry="22.51" transform="translate(999.77 1138.77) rotate(90)" fill="url(#gW)"/><ellipse rx="21.8" ry="20.71" transform="translate(1011.11 1175.54) rotate(180)" fill="url(#gM)"/><ellipse rx="13.5" ry="6.75" transform="translate(1022.45 1212.31) rotate(317)" fill="url(#gLc)"/><ellipse rx="21.8" ry="20.71" transform="translate(1033.8 1249.08) rotate(90)" fill="url(#gM)"/><ellipse rx="13.5" ry="6.75" transform="translate(1045.14 1285.85) rotate(47)" fill="url(#gLc)"/><ellipse rx="13.5" ry="6.75" transform="translate(1067.83 1359.39) rotate(227)" fill="url(#gLc)"/><ellipse rx="21.8" ry="20.71" transform="translate(1079.17 1396.16) rotate(270)" fill="url(#gM)"/><ellipse rx="23.7" ry="22.51" transform="translate(999.77 1016.2) rotate(90)" fill="url(#gW)"/><ellipse rx="21.8" ry="20.71" transform="translate(1011.11 1052.97) rotate(180)" fill="url(#gM)"/><ellipse rx="13.5" ry="6.75" transform="translate(1022.45 1089.74) rotate(317)" fill="url(#gLc)"/><ellipse rx="21.8" ry="20.71" transform="translate(1033.8 1126.51) rotate(90)" fill="url(#gM)"/><ellipse rx="13.5" ry="6.75" transform="translate(1045.14 1163.28) rotate(47)" fill="url(#gLc)"/><ellipse rx="13.5" ry="6.75" transform="translate(1067.83 1236.82) rotate(227)" fill="url(#gLc)"/><ellipse rx="21.8" ry="20.71" transform="translate(1079.17 1273.59) rotate(270)" fill="url(#gM)"/><ellipse rx="13.5" ry="6.75" transform="translate(1090.51 1310.36) rotate(137)" fill="url(#gLc)"/><ellipse rx="21.8" ry="20.71" transform="translate(1101.86 1347.13) rotate(360)" fill="url(#gM)"/><ellipse rx="23.7" ry="22.51" transform="translate(1113.2 1383.9) rotate(90)" fill="url(#gW)"/><ellipse rx="21.8" ry="20.71" transform="translate(1033.8 1003.94) rotate(90)" fill="url(#gM)"/><ellipse rx="13.5" ry="6.75" transform="translate(1045.14 1040.71) rotate(47)" fill="url(#gLc)"/><ellipse rx="13.5" ry="6.75" transform="translate(1067.83 1114.25) rotate(227)" fill="url(#gLc)"/><ellipse rx="21.8" ry="20.71" transform="translate(1079.17 1151.02) rotate(270)" fill="url(#gM)"/><ellipse rx="13.5" ry="6.75" transform="translate(1090.51 1187.79) rotate(137)" fill="url(#gLc)"/><ellipse rx="21.8" ry="20.71" transform="translate(1101.86 1224.56) rotate(360)" fill="url(#gM)"/><ellipse rx="23.7" ry="22.51" transform="translate(1113.2 1261.33) rotate(90)" fill="url(#gW)"/><ellipse rx="21.8" ry="20.71" transform="translate(1124.54 1298.1) rotate(180)" fill="url(#gM)"/><ellipse rx="13.5" ry="6.75" transform="translate(1135.89 1334.87) rotate(317)" fill="url(#gLc)"/><ellipse rx="13.5" ry="6.75" transform="translate(1067.83 991.69) rotate(227)" fill="url(#gLc)"/><ellipse rx="21.8" ry="20.71" transform="translate(1079.17 1028.46) rotate(270)" fill="url(#gM)"/><ellipse rx="13.5" ry="6.75" transform="translate(1090.51 1065.23) rotate(137)" fill="url(#gLc)"/><ellipse rx="21.8" ry="20.71" transform="translate(1101.86 1102) rotate(360)" fill="url(#gM)"/><ellipse rx="23.7" ry="22.51" transform="translate(1113.2 1138.77) rotate(90)" fill="url(#gW)"/><ellipse rx="21.8" ry="20.71" transform="translate(1124.54 1175.54) rotate(180)" fill="url(#gM)"/><ellipse rx="13.5" ry="6.75" transform="translate(1135.89 1212.31) rotate(317)" fill="url(#gLc)"/><ellipse rx="23.7" ry="22.51" transform="translate(1113.2 1016.2) rotate(90)" fill="url(#gW)"/><ellipse rx="21.8" ry="20.71" transform="translate(1124.54 1052.97) rotate(180)" fill="url(#gM)"/><ellipse rx="13.5" ry="6.75" transform="translate(1135.89 1089.74) rotate(317)" fill="url(#gLc)"/></g></g>
<filter id="bl4" filterUnits="userSpaceOnUse" x="1078.5" y="974.8" width="426.8" height="451.1" color-interpolation-filters="sRGB"><feGaussianBlur stdDeviation="3.5"/></filter><clipPath id="cp4"><rect x="1118.5" y="1014.8" width="346.8" height="371.1"/></clipPath><g clip-path="url(#cp4)"><g filter="url(#cm)"><rect x="1078.5" y="974.8" width="426.8" height="451.1" fill="#000"/><g filter="url(#bl4)" fill="#fff"><rect x="-8.8" y="-13.2" width="17.6" height="26.4" rx="5.5" transform="translate(1130.06 1299.31) rotate(-14)" fill-opacity="0.42"/><rect x="-10.8" y="-9.8" width="21.6" height="19.6" rx="6" transform="translate(1141.62 1336.42) rotate(-8) skewX(14)" fill-opacity="0.46"/><rect x="-10.8" y="-9.8" width="21.6" height="19.6" rx="6" transform="translate(1153.18 1373.53) rotate(-8) skewX(14)" fill-opacity="0.46"/><rect x="-8.8" y="-13.2" width="17.6" height="26.4" rx="5.5" transform="translate(1164.74 1410.64) rotate(-14)" fill-opacity="0.42"/><rect x="-8.8" y="-13.2" width="17.6" height="26.4" rx="5.5" transform="translate(1130.06 1175.61) rotate(-14)" fill-opacity="0.42"/><rect x="-10.8" y="-9.8" width="21.6" height="19.6" rx="6" transform="translate(1141.62 1212.72) rotate(-8) skewX(14)" fill-opacity="0.46"/><rect x="-10.8" y="-9.8" width="21.6" height="19.6" rx="6" transform="translate(1153.18 1249.83) rotate(-8) skewX(14)" fill-opacity="0.46"/><rect x="-8.8" y="-13.2" width="17.6" height="26.4" rx="5.5" transform="translate(1164.74 1286.94) rotate(-14)" fill-opacity="0.42"/><rect x="-8.8" y="-13.2" width="17.6" height="26.4" rx="5.5" transform="translate(1130.06 1051.91) rotate(-14)" fill-opacity="0.42"/><rect x="-10.8" y="-9.8" width="21.6" height="19.6" rx="6" transform="translate(1141.62 1089.02) rotate(-8) skewX(14)" fill-opacity="0.46"/><rect x="-10.8" y="-9.8" width="21.6" height="19.6" rx="6" transform="translate(1153.18 1126.13) rotate(-8) skewX(14)" fill-opacity="0.46"/><rect x="-8.8" y="-13.2" width="17.6" height="26.4" rx="5.5" transform="translate(1164.74 1163.24) rotate(-14)" fill-opacity="0.42"/><rect x="-10.8" y="-9.8" width="21.6" height="19.6" rx="6" transform="translate(1153.18 1002.43) rotate(-8) skewX(14)" fill-opacity="0.46"/><rect x="-8.8" y="-13.2" width="17.6" height="26.4" rx="5.5" transform="translate(1164.74 1039.54) rotate(-14)" fill-opacity="0.42"/><rect x="-8.8" y="-13.2" width="17.6" height="26.4" rx="5.5" transform="translate(1245.66 1299.31) rotate(-14)" fill-opacity="0.42"/><rect x="-10.8" y="-9.8" width="21.6" height="19.6" rx="6" transform="translate(1257.22 1336.42) rotate(-8) skewX(14)" fill-opacity="0.46"/><rect x="-10.8" y="-9.8" width="21.6" height="19.6" rx="6" transform="translate(1268.78 1373.53) rotate(-8) skewX(14)" fill-opacity="0.46"/><rect x="-8.8" y="-13.2" width="17.6" height="26.4" rx="5.5" transform="translate(1280.34 1410.64) rotate(-14)" fill-opacity="0.42"/><rect x="-8.8" y="-13.2" width="17.6" height="26.4" rx="5.5" transform="translate(1245.66 1175.61) rotate(-14)" fill-opacity="0.42"/><rect x="-10.8" y="-9.8" width="21.6" height="19.6" rx="6" transform="translate(1257.22 1212.72) rotate(-8) skewX(14)" fill-opacity="0.46"/><rect x="-10.8" y="-9.8" width="21.6" height="19.6" rx="6" transform="translate(1268.78 1249.83) rotate(-8) skewX(14)" fill-opacity="0.46"/><rect x="-8.8" y="-13.2" width="17.6" height="26.4" rx="5.5" transform="translate(1280.34 1286.94) rotate(-14)" fill-opacity="0.42"/><rect x="-8.8" y="-13.2" width="17.6" height="26.4" rx="5.5" transform="translate(1245.66 1051.91) rotate(-14)" fill-opacity="0.42"/><rect x="-10.8" y="-9.8" width="21.6" height="19.6" rx="6" transform="translate(1257.22 1089.02) rotate(-8) skewX(14)" fill-opacity="0.46"/><rect x="-10.8" y="-9.8" width="21.6" height="19.6" rx="6" transform="translate(1268.78 1126.13) rotate(-8) skewX(14)" fill-opacity="0.46"/><rect x="-8.8" y="-13.2" width="17.6" height="26.4" rx="5.5" transform="translate(1280.34 1163.24) rotate(-14)" fill-opacity="0.42"/><rect x="-10.8" y="-9.8" width="21.6" height="19.6" rx="6" transform="translate(1268.78 1002.43) rotate(-8) skewX(14)" fill-opacity="0.46"/><rect x="-8.8" y="-13.2" width="17.6" height="26.4" rx="5.5" transform="translate(1280.34 1039.54) rotate(-14)" fill-opacity="0.42"/><rect x="-8.8" y="-13.2" width="17.6" height="26.4" rx="5.5" transform="translate(1361.26 1299.31) rotate(-14)" fill-opacity="0.42"/><rect x="-10.8" y="-9.8" width="21.6" height="19.6" rx="6" transform="translate(1372.82 1336.42) rotate(-8) skewX(14)" fill-opacity="0.46"/><rect x="-10.8" y="-9.8" width="21.6" height="19.6" rx="6" transform="translate(1384.38 1373.53) rotate(-8) skewX(14)" fill-opacity="0.46"/><rect x="-8.8" y="-13.2" width="17.6" height="26.4" rx="5.5" transform="translate(1395.94 1410.64) rotate(-14)" fill-opacity="0.42"/><rect x="-8.8" y="-13.2" width="17.6" height="26.4" rx="5.5" transform="translate(1361.26 1175.61) rotate(-14)" fill-opacity="0.42"/><rect x="-10.8" y="-9.8" width="21.6" height="19.6" rx="6" transform="translate(1372.82 1212.72) rotate(-8) skewX(14)" fill-opacity="0.46"/><rect x="-10.8" y="-9.8" width="21.6" height="19.6" rx="6" transform="translate(1384.38 1249.83) rotate(-8) skewX(14)" fill-opacity="0.46"/><rect x="-8.8" y="-13.2" width="17.6" height="26.4" rx="5.5" transform="translate(1395.94 1286.94) rotate(-14)" fill-opacity="0.42"/><rect x="-8.8" y="-13.2" width="17.6" height="26.4" rx="5.5" transform="translate(1361.26 1051.91) rotate(-14)" fill-opacity="0.42"/><rect x="-10.8" y="-9.8" width="21.6" height="19.6" rx="6" transform="translate(1372.82 1089.02) rotate(-8) skewX(14)" fill-opacity="0.46"/><rect x="-10.8" y="-9.8" width="21.6" height="19.6" rx="6" transform="translate(1384.38 1126.13) rotate(-8) skewX(14)" fill-opacity="0.46"/><rect x="-8.8" y="-13.2" width="17.6" height="26.4" rx="5.5" transform="translate(1395.94 1163.24) rotate(-14)" fill-opacity="0.42"/><rect x="-10.8" y="-9.8" width="21.6" height="19.6" rx="6" transform="translate(1384.38 1002.43) rotate(-8) skewX(14)" fill-opacity="0.46"/><rect x="-8.8" y="-13.2" width="17.6" height="26.4" rx="5.5" transform="translate(1395.94 1039.54) rotate(-14)" fill-opacity="0.42"/><rect x="-8.8" y="-13.2" width="17.6" height="26.4" rx="5.5" transform="translate(1476.86 1299.31) rotate(-14)" fill-opacity="0.42"/><rect x="-10.8" y="-9.8" width="21.6" height="19.6" rx="6" transform="translate(1488.42 1336.42) rotate(-8) skewX(14)" fill-opacity="0.46"/><rect x="-8.8" y="-13.2" width="17.6" height="26.4" rx="5.5" transform="translate(1476.86 1175.61) rotate(-14)" fill-opacity="0.42"/><rect x="-10.8" y="-9.8" width="21.6" height="19.6" rx="6" transform="translate(1488.42 1212.72) rotate(-8) skewX(14)" fill-opacity="0.46"/><rect x="-8.8" y="-13.2" width="17.6" height="26.4" rx="5.5" transform="translate(1476.86 1051.91) rotate(-14)" fill-opacity="0.42"/><rect x="-10.8" y="-9.8" width="21.6" height="19.6" rx="6" transform="translate(1488.42 1089.02) rotate(-8) skewX(14)" fill-opacity="0.46"/></g><ellipse rx="23.5" ry="21.15" transform="translate(1095.38 1311.68) rotate(-55)" fill="url(#gB)"/><ellipse rx="23.2" ry="21.34" transform="translate(1106.94 1348.79) rotate(85)" fill="url(#gV)"/><ellipse rx="23.4" ry="19.42" transform="translate(1118.5 1385.9) rotate(80)" fill="url(#gP)"/><ellipse rx="23.5" ry="21.15" transform="translate(1095.38 1187.98) rotate(-55)" fill="url(#gB)"/><ellipse rx="23.2" ry="21.34" transform="translate(1106.94 1225.09) rotate(85)" fill="url(#gV)"/><ellipse rx="23.4" ry="19.42" transform="translate(1118.5 1262.2) rotate(80)" fill="url(#gP)"/><ellipse rx="11" ry="5.5" transform="translate(1130.06 1299.31) rotate(76)" fill="url(#gEc)"/><ellipse rx="11" ry="6.05" transform="translate(1141.62 1336.42) rotate(40)" fill="url(#gQc)"/><ellipse rx="11" ry="6.05" transform="translate(1153.18 1373.53) rotate(40)" fill="url(#gQc)"/><ellipse rx="11" ry="5.5" transform="translate(1164.74 1410.64) rotate(76)" fill="url(#gEc)"/><ellipse rx="23.5" ry="21.15" transform="translate(1095.38 1064.28) rotate(-55)" fill="url(#gB)"/><ellipse rx="23.2" ry="21.34" transform="translate(1106.94 1101.39) rotate(85)" fill="url(#gV)"/><ellipse rx="23.4" ry="19.42" transform="translate(1118.5 1138.5) rotate(80)" fill="url(#gP)"/><ellipse rx="11" ry="5.5" transform="translate(1130.06 1175.61) rotate(76)" fill="url(#gEc)"/><ellipse rx="11" ry="6.05" transform="translate(1141.62 1212.72) rotate(40)" fill="url(#gQc)"/><ellipse rx="11" ry="6.05" transform="translate(1153.18 1249.83) rotate(40)" fill="url(#gQc)"/><ellipse rx="11" ry="5.5" transform="translate(1164.74 1286.94) rotate(76)" fill="url(#gEc)"/><ellipse rx="23.4" ry="19.42" transform="translate(1176.3 1324.05) rotate(80)" fill="url(#gP)"/><ellipse rx="23.2" ry="21.34" transform="translate(1187.86 1361.16) rotate(85)" fill="url(#gV)"/><ellipse rx="23.5" ry="21.15" transform="translate(1199.42 1398.27) rotate(-55)" fill="url(#gB)"/><ellipse rx="23.4" ry="19.42" transform="translate(1118.5 1014.8) rotate(80)" fill="url(#gP)"/><ellipse rx="11" ry="5.5" transform="translate(1130.06 1051.91) rotate(76)" fill="url(#gEc)"/><ellipse rx="11" ry="6.05" transform="translate(1141.62 1089.02) rotate(40)" fill="url(#gQc)"/><ellipse rx="11" ry="6.05" transform="translate(1153.18 1126.13) rotate(40)" fill="url(#gQc)"/><ellipse rx="11" ry="5.5" transform="translate(1164.74 1163.24) rotate(76)" fill="url(#gEc)"/><ellipse rx="23.4" ry="19.42" transform="translate(1176.3 1200.35) rotate(80)" fill="url(#gP)"/><ellipse rx="23.2" ry="21.34" transform="translate(1187.86 1237.46) rotate(85)" fill="url(#gV)"/><ellipse rx="23.5" ry="21.15" transform="translate(1199.42 1274.57) rotate(-55)" fill="url(#gB)"/><ellipse rx="23.5" ry="21.15" transform="translate(1210.98 1311.68) rotate(-55)" fill="url(#gB)"/><ellipse rx="23.2" ry="21.34" transform="translate(1222.54 1348.79) rotate(85)" fill="url(#gV)"/><ellipse rx="23.4" ry="19.42" transform="translate(1234.1 1385.9) rotate(80)" fill="url(#gP)"/><ellipse rx="11" ry="6.05" transform="translate(1153.18 1002.43) rotate(40)" fill="url(#gQc)"/><ellipse rx="11" ry="5.5" transform="translate(1164.74 1039.54) rotate(76)" fill="url(#gEc)"/><ellipse rx="23.4" ry="19.42" transform="translate(1176.3 1076.65) rotate(80)" fill="url(#gP)"/><ellipse rx="23.2" ry="21.34" transform="translate(1187.86 1113.76) rotate(85)" fill="url(#gV)"/><ellipse rx="23.5" ry="21.15" transform="translate(1199.42 1150.87) rotate(-55)" fill="url(#gB)"/><ellipse rx="23.5" ry="21.15" transform="translate(1210.98 1187.98) rotate(-55)" fill="url(#gB)"/><ellipse rx="23.2" ry="21.34" transform="translate(1222.54 1225.09) rotate(85)" fill="url(#gV)"/><ellipse rx="23.4" ry="19.42" transform="translate(1234.1 1262.2) rotate(80)" fill="url(#gP)"/><ellipse rx="11" ry="5.5" transform="translate(1245.66 1299.31) rotate(76)" fill="url(#gEc)"/><ellipse rx="11" ry="6.05" transform="translate(1257.22 1336.42) rotate(40)" fill="url(#gQc)"/><ellipse rx="11" ry="6.05" transform="translate(1268.78 1373.53) rotate(40)" fill="url(#gQc)"/><ellipse rx="11" ry="5.5" transform="translate(1280.34 1410.64) rotate(76)" fill="url(#gEc)"/><ellipse rx="23.2" ry="21.34" transform="translate(1187.86 990.06) rotate(85)" fill="url(#gV)"/><ellipse rx="23.5" ry="21.15" transform="translate(1199.42 1027.17) rotate(-55)" fill="url(#gB)"/><ellipse rx="23.5" ry="21.15" transform="translate(1210.98 1064.28) rotate(-55)" fill="url(#gB)"/><ellipse rx="23.2" ry="21.34" transform="translate(1222.54 1101.39) rotate(85)" fill="url(#gV)"/><ellipse rx="23.4" ry="19.42" transform="translate(1234.1 1138.5) rotate(80)" fill="url(#gP)"/><ellipse rx="11" ry="5.5" transform="translate(1245.66 1175.61) rotate(76)" fill="url(#gEc)"/><ellipse rx="11" ry="6.05" transform="translate(1257.22 1212.72) rotate(40)" fill="url(#gQc)"/><ellipse rx="11" ry="6.05" transform="translate(1268.78 1249.83) rotate(40)" fill="url(#gQc)"/><ellipse rx="11" ry="5.5" transform="translate(1280.34 1286.94) rotate(76)" fill="url(#gEc)"/><ellipse rx="23.4" ry="19.42" transform="translate(1291.9 1324.05) rotate(80)" fill="url(#gP)"/><ellipse rx="23.2" ry="21.34" transform="translate(1303.46 1361.16) rotate(85)" fill="url(#gV)"/><ellipse rx="23.5" ry="21.15" transform="translate(1315.02 1398.27) rotate(-55)" fill="url(#gB)"/><ellipse rx="23.4" ry="19.42" transform="translate(1234.1 1014.8) rotate(80)" fill="url(#gP)"/><ellipse rx="11" ry="5.5" transform="translate(1245.66 1051.91) rotate(76)" fill="url(#gEc)"/><ellipse rx="11" ry="6.05" transform="translate(1257.22 1089.02) rotate(40)" fill="url(#gQc)"/><ellipse rx="11" ry="6.05" transform="translate(1268.78 1126.13) rotate(40)" fill="url(#gQc)"/><ellipse rx="11" ry="5.5" transform="translate(1280.34 1163.24) rotate(76)" fill="url(#gEc)"/><ellipse rx="23.4" ry="19.42" transform="translate(1291.9 1200.35) rotate(80)" fill="url(#gP)"/><ellipse rx="23.2" ry="21.34" transform="translate(1303.46 1237.46) rotate(85)" fill="url(#gV)"/><ellipse rx="23.5" ry="21.15" transform="translate(1315.02 1274.57) rotate(-55)" fill="url(#gB)"/><ellipse rx="23.5" ry="21.15" transform="translate(1326.58 1311.68) rotate(-55)" fill="url(#gB)"/><ellipse rx="23.2" ry="21.34" transform="translate(1338.14 1348.79) rotate(85)" fill="url(#gV)"/><ellipse rx="23.4" ry="19.42" transform="translate(1349.7 1385.9) rotate(80)" fill="url(#gP)"/><ellipse rx="11" ry="6.05" transform="translate(1268.78 1002.43) rotate(40)" fill="url(#gQc)"/><ellipse rx="11" ry="5.5" transform="translate(1280.34 1039.54) rotate(76)" fill="url(#gEc)"/><ellipse rx="23.4" ry="19.42" transform="translate(1291.9 1076.65) rotate(80)" fill="url(#gP)"/><ellipse rx="23.2" ry="21.34" transform="translate(1303.46 1113.76) rotate(85)" fill="url(#gV)"/><ellipse rx="23.5" ry="21.15" transform="translate(1315.02 1150.87) rotate(-55)" fill="url(#gB)"/><ellipse rx="23.5" ry="21.15" transform="translate(1326.58 1187.98) rotate(-55)" fill="url(#gB)"/><ellipse rx="23.2" ry="21.34" transform="translate(1338.14 1225.09) rotate(85)" fill="url(#gV)"/><ellipse rx="23.4" ry="19.42" transform="translate(1349.7 1262.2) rotate(80)" fill="url(#gP)"/><ellipse rx="11" ry="5.5" transform="translate(1361.26 1299.31) rotate(76)" fill="url(#gEc)"/><ellipse rx="11" ry="6.05" transform="translate(1372.82 1336.42) rotate(40)" fill="url(#gQc)"/><ellipse rx="11" ry="6.05" transform="translate(1384.38 1373.53) rotate(40)" fill="url(#gQc)"/><ellipse rx="11" ry="5.5" transform="translate(1395.94 1410.64) rotate(76)" fill="url(#gEc)"/><ellipse rx="23.2" ry="21.34" transform="translate(1303.46 990.06) rotate(85)" fill="url(#gV)"/><ellipse rx="23.5" ry="21.15" transform="translate(1315.02 1027.17) rotate(-55)" fill="url(#gB)"/><ellipse rx="23.5" ry="21.15" transform="translate(1326.58 1064.28) rotate(-55)" fill="url(#gB)"/><ellipse rx="23.2" ry="21.34" transform="translate(1338.14 1101.39) rotate(85)" fill="url(#gV)"/><ellipse rx="23.4" ry="19.42" transform="translate(1349.7 1138.5) rotate(80)" fill="url(#gP)"/><ellipse rx="11" ry="5.5" transform="translate(1361.26 1175.61) rotate(76)" fill="url(#gEc)"/><ellipse rx="11" ry="6.05" transform="translate(1372.82 1212.72) rotate(40)" fill="url(#gQc)"/><ellipse rx="11" ry="6.05" transform="translate(1384.38 1249.83) rotate(40)" fill="url(#gQc)"/><ellipse rx="11" ry="5.5" transform="translate(1395.94 1286.94) rotate(76)" fill="url(#gEc)"/><ellipse rx="23.4" ry="19.42" transform="translate(1407.5 1324.05) rotate(80)" fill="url(#gP)"/><ellipse rx="23.2" ry="21.34" transform="translate(1419.06 1361.16) rotate(85)" fill="url(#gV)"/><ellipse rx="23.5" ry="21.15" transform="translate(1430.62 1398.27) rotate(-55)" fill="url(#gB)"/><ellipse rx="23.4" ry="19.42" transform="translate(1349.7 1014.8) rotate(80)" fill="url(#gP)"/><ellipse rx="11" ry="5.5" transform="translate(1361.26 1051.91) rotate(76)" fill="url(#gEc)"/><ellipse rx="11" ry="6.05" transform="translate(1372.82 1089.02) rotate(40)" fill="url(#gQc)"/><ellipse rx="11" ry="6.05" transform="translate(1384.38 1126.13) rotate(40)" fill="url(#gQc)"/><ellipse rx="11" ry="5.5" transform="translate(1395.94 1163.24) rotate(76)" fill="url(#gEc)"/><ellipse rx="23.4" ry="19.42" transform="translate(1407.5 1200.35) rotate(80)" fill="url(#gP)"/><ellipse rx="23.2" ry="21.34" transform="translate(1419.06 1237.46) rotate(85)" fill="url(#gV)"/><ellipse rx="23.5" ry="21.15" transform="translate(1430.62 1274.57) rotate(-55)" fill="url(#gB)"/><ellipse rx="23.5" ry="21.15" transform="translate(1442.18 1311.68) rotate(-55)" fill="url(#gB)"/><ellipse rx="23.2" ry="21.34" transform="translate(1453.74 1348.79) rotate(85)" fill="url(#gV)"/><ellipse rx="23.4" ry="19.42" transform="translate(1465.3 1385.9) rotate(80)" fill="url(#gP)"/><ellipse rx="11" ry="6.05" transform="translate(1384.38 1002.43) rotate(40)" fill="url(#gQc)"/><ellipse rx="11" ry="5.5" transform="translate(1395.94 1039.54) rotate(76)" fill="url(#gEc)"/><ellipse rx="23.4" ry="19.42" transform="translate(1407.5 1076.65) rotate(80)" fill="url(#gP)"/><ellipse rx="23.2" ry="21.34" transform="translate(1419.06 1113.76) rotate(85)" fill="url(#gV)"/><ellipse rx="23.5" ry="21.15" transform="translate(1430.62 1150.87) rotate(-55)" fill="url(#gB)"/><ellipse rx="23.5" ry="21.15" transform="translate(1442.18 1187.98) rotate(-55)" fill="url(#gB)"/><ellipse rx="23.2" ry="21.34" transform="translate(1453.74 1225.09) rotate(85)" fill="url(#gV)"/><ellipse rx="23.4" ry="19.42" transform="translate(1465.3 1262.2) rotate(80)" fill="url(#gP)"/><ellipse rx="11" ry="5.5" transform="translate(1476.86 1299.31) rotate(76)" fill="url(#gEc)"/><ellipse rx="11" ry="6.05" transform="translate(1488.42 1336.42) rotate(40)" fill="url(#gQc)"/><ellipse rx="23.2" ry="21.34" transform="translate(1419.06 990.06) rotate(85)" fill="url(#gV)"/><ellipse rx="23.5" ry="21.15" transform="translate(1430.62 1027.17) rotate(-55)" fill="url(#gB)"/><ellipse rx="23.5" ry="21.15" transform="translate(1442.18 1064.28) rotate(-55)" fill="url(#gB)"/><ellipse rx="23.2" ry="21.34" transform="translate(1453.74 1101.39) rotate(85)" fill="url(#gV)"/><ellipse rx="23.4" ry="19.42" transform="translate(1465.3 1138.5) rotate(80)" fill="url(#gP)"/><ellipse rx="11" ry="5.5" transform="translate(1476.86 1175.61) rotate(76)" fill="url(#gEc)"/><ellipse rx="11" ry="6.05" transform="translate(1488.42 1212.72) rotate(40)" fill="url(#gQc)"/><ellipse rx="23.4" ry="19.42" transform="translate(1465.3 1014.8) rotate(80)" fill="url(#gP)"/><ellipse rx="11" ry="5.5" transform="translate(1476.86 1051.91) rotate(76)" fill="url(#gEc)"/><ellipse rx="11" ry="6.05" transform="translate(1488.42 1089.02) rotate(40)" fill="url(#gQc)"/></g></g>
<rect x="47.2" y="1013.1" width="19.4" height="192.4" fill="url(#cbg)" stroke="#000" stroke-width="1"/>
<g stroke="#000" stroke-width="1.3"><line x1="47.2" y1="1106.6" x2="50.6" y2="1106.6"/></g>
<text x="23.8" y="1027.2" fill="#000" text-anchor="start" style="font-family:'Liberation Sans',sans-serif;font-size:29.5px;" >1</text>
<text x="-1.8" y="1116.8" fill="#000" text-anchor="start" style="font-family:'Liberation Sans',sans-serif;font-size:30px;" >0.5</text>
<text x="25.7" y="1212.2" fill="#000" text-anchor="start" style="font-family:'Liberation Sans',sans-serif;font-size:29.5px;" >0</text>
<text x="106.1" y="1070" fill="#ff0000" text-anchor="start" style="font-family:'Liberation Serif',serif;font-size:52.5px;" >0</text>
<text x="447.5" y="1070" fill="#ff0000" text-anchor="start" style="font-family:'Liberation Serif',serif;font-size:52.5px;" >1/4 Z</text>
<text x="799" y="1073.3" fill="#ff0000" text-anchor="start" style="font-family:'Liberation Serif',serif;font-size:52.3px;" >1/2 Z</text>
<text x="1148" y="1074.5" fill="#ff0000" text-anchor="start" style="font-family:'Liberation Serif',serif;font-size:53.5px;" >3/4 Z</text>
<text x="1406" y="1085.8" fill="#000" text-anchor="start" style="font-family:'Liberation Sans',sans-serif;font-size:78px;" >b</text>
<g stroke="#ff0000" stroke-width="4.5" fill="none"><path d="M249.8 1105 V1201.2 H338"/></g>
<path d="M249.8 1072 L242 1108 H258 Z" fill="#ff0000"/>
<path d="M369 1201.3 L335 1192.8 V1210 Z" fill="#ff0000"/>
<text x="272" y="1096.8" fill="#ff0000" text-anchor="start" style="font-family:'Liberation Serif',serif;font-size:72.5px;" >e</text><text x="303.8" y="1121.5" fill="#ff0000" text-anchor="start" style="font-family:'Liberation Serif',serif;font-size:45px;" >2</text>
<text x="333.9" y="1260.6" fill="#ff0000" text-anchor="start" style="font-family:'Liberation Serif',serif;font-size:72.5px;" >e</text><text x="366" y="1285" fill="#ff0000" text-anchor="start" style="font-family:'Liberation Serif',serif;font-size:44px;" >1</text></g>
<g id="pc"><path d="M79 1515 L83.34 1515 L87.67 1515.01 L92.01 1515.02 L96.34 1515.04 L100.68 1515.07 L105.01 1515.1 L109.35 1515.13 L113.68 1515.18 L118.02 1515.22 L122.35 1515.27 L126.69 1515.33 L131.03 1515.39 L135.36 1515.46 L139.7 1515.54 L144.03 1515.61 L148.37 1515.7 L152.7 1515.79 L157.04 1515.88 L161.37 1515.98 L165.71 1516.09 L170.04 1516.2 L174.38 1516.31 L178.72 1516.43 L183.05 1516.56 L187.39 1516.69 L191.72 1516.83 L196.06 1516.96 L200.39 1517.1 L204.73 1517.25 L209.06 1517.39 L213.4 1517.53 L217.73 1517.67 L222.07 1517.81 L226.41 1517.94 L230.74 1518.07 L235.08 1518.2 L239.41 1518.32 L243.75 1518.43 L248.08 1518.54 L252.42 1518.64 L256.75 1518.73 L261.09 1518.81 L265.42 1518.88 L269.76 1518.94 L274.09 1518.98 L278.43 1519.01 L282.77 1519.03 L287.1 1519.03 L291.44 1519.02 L295.77 1518.99 L300.11 1518.94 L304.44 1518.87 L308.78 1518.79 L313.11 1518.7 L317.45 1518.59 L321.78 1518.47 L326.12 1518.34 L330.46 1518.2 L334.79 1518.04 L339.13 1517.88 L343.46 1517.71 L347.8 1517.53 L352.13 1517.35 L356.47 1517.16 L360.8 1516.96 L365.14 1516.76 L369.47 1516.56 L373.81 1516.37 L378.15 1516.17 L382.48 1515.98 L386.82 1515.8 L391.15 1515.64 L395.49 1515.48 L399.82 1515.35 L404.16 1515.23 L408.49 1515.13 L412.83 1515.06 L417.16 1515.02 L421.5 1515" stroke="#0000ff" stroke-width="2.0" fill="none"/><path d="M79 1635.5 L83.34 1635.52 L87.67 1635.58 L92.01 1635.68 L96.34 1635.81 L100.68 1635.97 L105.01 1636.15 L109.35 1636.36 L113.68 1636.58 L118.02 1636.81 L122.35 1637.06 L126.69 1637.31 L131.03 1637.56 L135.36 1637.81 L139.7 1638.06 L144.03 1638.3 L148.37 1638.54 L152.7 1638.77 L157.04 1638.99 L161.37 1639.2 L165.71 1639.4 L170.04 1639.59 L174.38 1639.76 L178.72 1639.92 L183.05 1640.07 L187.39 1640.2 L191.72 1640.32 L196.06 1640.45 L200.39 1640.59 L204.73 1640.75 L209.06 1640.94 L213.4 1641.16 L217.73 1641.43 L222.07 1641.75 L226.41 1642.13 L230.74 1642.58 L235.08 1643.1 L239.41 1643.68 L243.75 1644.29 L248.08 1644.92 L252.42 1645.55 L256.75 1646.17 L261.09 1646.75 L265.42 1647.27 L269.76 1647.73 L274.09 1648.09 L278.43 1648.35 L282.77 1648.49 L287.1 1648.48 L291.44 1648.32 L295.77 1648.04 L300.11 1647.65 L304.44 1647.16 L308.78 1646.58 L313.11 1645.95 L317.45 1645.26 L321.78 1644.54 L326.12 1643.8 L330.46 1643.06 L334.79 1642.33 L339.13 1641.64 L343.46 1640.98 L347.8 1640.38 L352.13 1639.82 L356.47 1639.3 L360.8 1638.82 L365.14 1638.38 L369.47 1637.98 L373.81 1637.61 L378.15 1637.28 L382.48 1636.97 L386.82 1636.69 L391.15 1636.43 L395.49 1636.2 L399.82 1636 L404.16 1635.83 L408.49 1635.69 L412.83 1635.59 L417.16 1635.52 L421.5 1635.5" stroke="#ff0000" stroke-width="2.0" fill="none"/><path d="M421.5 1600.5 L425.89 1600.56 L430.27 1600.72 L434.66 1600.97 L439.04 1601.3 L443.43 1601.71 L447.82 1602.17 L452.2 1602.68 L456.59 1603.23 L460.97 1603.8 L465.36 1604.38 L469.75 1604.97 L474.13 1605.54 L478.52 1606.11 L482.91 1606.66 L487.29 1607.19 L491.68 1607.69 L496.06 1608.18 L500.45 1608.63 L504.84 1609.05 L509.22 1609.44 L513.61 1609.79 L517.99 1610.1 L522.38 1610.36 L526.77 1610.58 L531.15 1610.76 L535.54 1610.91 L539.92 1611.05 L544.31 1611.19 L548.7 1611.36 L553.08 1611.57 L557.47 1611.82 L561.85 1612.15 L566.24 1612.57 L570.63 1613.08 L575.01 1613.7 L579.4 1614.42 L583.78 1615.2 L588.17 1616.03 L592.56 1616.88 L596.94 1617.73 L601.33 1618.57 L605.72 1619.36 L610.1 1620.1 L614.49 1620.74 L618.87 1621.28 L623.26 1621.69 L627.65 1621.95 L632.03 1622.04 L636.42 1621.96 L640.8 1621.73 L645.19 1621.36 L649.58 1620.86 L653.96 1620.25 L658.35 1619.55 L662.73 1618.77 L667.12 1617.92 L671.51 1617.02 L675.89 1616.08 L680.28 1615.13 L684.66 1614.16 L689.05 1613.2 L693.44 1612.27 L697.82 1611.36 L702.21 1610.48 L706.59 1609.62 L710.98 1608.79 L715.37 1607.99 L719.75 1607.22 L724.14 1606.47 L728.53 1605.75 L732.91 1605.06 L737.3 1604.4 L741.68 1603.76 L746.07 1603.16 L750.46 1602.62 L754.84 1602.16 L759.23 1601.81 L763.61 1601.58 L768 1601.5" stroke="#0000ff" stroke-width="2.0" fill="none"/><path d="M421.5 1734.5 L425.89 1734.62 L430.27 1734.87 L434.66 1735.1 L439.04 1735.14 L443.43 1734.84 L447.82 1734.05 L452.2 1732.64 L456.59 1730.7 L460.97 1728.37 L465.36 1725.81 L469.75 1723.15 L474.13 1720.53 L478.52 1718 L482.91 1715.6 L487.29 1713.37 L491.68 1711.36 L496.06 1709.6 L500.45 1708.12 L504.84 1706.9 L509.22 1705.93 L513.61 1705.19 L517.99 1704.67 L522.38 1704.35 L526.77 1704.22 L531.15 1704.23 L535.54 1704.39 L539.92 1704.64 L544.31 1704.98 L548.7 1705.38 L553.08 1705.8 L557.47 1706.22 L561.85 1706.6 L566.24 1706.9 L570.63 1707.08 L575.01 1707.1 L579.4 1706.92 L583.78 1706.54 L588.17 1705.99 L592.56 1705.32 L596.94 1704.56 L601.33 1703.75 L605.72 1702.95 L610.1 1702.17 L614.49 1701.46 L618.87 1700.84 L623.26 1700.35 L627.65 1700.02 L632.03 1699.88 L636.42 1699.93 L640.8 1700.16 L645.19 1700.55 L649.58 1701.11 L653.96 1701.81 L658.35 1702.65 L662.73 1703.62 L667.12 1704.7 L671.51 1705.88 L675.89 1707.14 L680.28 1708.48 L684.66 1709.88 L689.05 1711.32 L693.44 1712.78 L697.82 1714.26 L702.21 1715.75 L706.59 1717.22 L710.98 1718.7 L715.37 1720.17 L719.75 1721.64 L724.14 1723.11 L728.53 1724.59 L732.91 1726.08 L737.3 1727.57 L741.68 1729.08 L746.07 1730.56 L750.46 1731.95 L754.84 1733.17 L759.23 1734.13 L763.61 1734.77 L768 1735" stroke="#ff0000" stroke-width="2.0" fill="none"/><path d="M768 1517 L772.39 1517 L776.78 1517.01 L781.18 1517.02 L785.57 1517.04 L789.96 1517.06 L794.35 1517.08 L798.75 1517.11 L803.14 1517.14 L807.53 1517.18 L811.92 1517.22 L816.32 1517.26 L820.71 1517.3 L825.1 1517.35 L829.49 1517.4 L833.89 1517.45 L838.28 1517.5 L842.67 1517.55 L847.06 1517.61 L851.46 1517.67 L855.85 1517.73 L860.24 1517.78 L864.63 1517.84 L869.03 1517.9 L873.42 1517.96 L877.81 1518.02 L882.2 1518.08 L886.59 1518.14 L890.99 1518.2 L895.38 1518.26 L899.77 1518.32 L904.16 1518.38 L908.56 1518.43 L912.95 1518.48 L917.34 1518.54 L921.73 1518.59 L926.13 1518.63 L930.52 1518.68 L934.91 1518.72 L939.3 1518.76 L943.7 1518.8 L948.09 1518.84 L952.48 1518.87 L956.87 1518.9 L961.27 1518.93 L965.66 1518.95 L970.05 1518.97 L974.44 1518.98 L978.84 1518.99 L983.23 1519 L987.62 1519 L992.01 1519 L996.41 1518.99 L1000.8 1518.98 L1005.19 1518.96 L1009.58 1518.93 L1013.97 1518.89 L1018.37 1518.85 L1022.76 1518.8 L1027.15 1518.75 L1031.54 1518.68 L1035.94 1518.6 L1040.33 1518.52 L1044.72 1518.42 L1049.11 1518.31 L1053.51 1518.2 L1057.9 1518.07 L1062.29 1517.92 L1066.68 1517.77 L1071.08 1517.61 L1075.47 1517.45 L1079.86 1517.29 L1084.25 1517.14 L1088.65 1516.99 L1093.04 1516.86 L1097.43 1516.74 L1101.82 1516.64 L1106.22 1516.56 L1110.61 1516.52 L1115 1516.5" stroke="#0000ff" stroke-width="2.0" fill="none"/><path d="M768 1638 L772.39 1638.05 L776.78 1638.18 L781.18 1638.39 L785.57 1638.67 L789.96 1639.01 L794.35 1639.41 L798.75 1639.86 L803.14 1640.35 L807.53 1640.88 L811.92 1641.43 L816.32 1642.01 L820.71 1642.6 L825.1 1643.19 L829.49 1643.78 L833.89 1644.38 L838.28 1644.96 L842.67 1645.53 L847.06 1646.09 L851.46 1646.62 L855.85 1647.13 L860.24 1647.61 L864.63 1648.05 L869.03 1648.45 L873.42 1648.81 L877.81 1649.12 L882.2 1649.39 L886.59 1649.62 L890.99 1649.84 L895.38 1650.06 L899.77 1650.29 L904.16 1650.56 L908.56 1650.87 L912.95 1651.24 L917.34 1651.69 L921.73 1652.22 L926.13 1652.85 L930.52 1653.55 L934.91 1654.28 L939.3 1655.04 L943.7 1655.8 L948.09 1656.53 L952.48 1657.2 L956.87 1657.81 L961.27 1658.32 L965.66 1658.7 L970.05 1658.94 L974.44 1659.02 L978.84 1658.9 L983.23 1658.6 L987.62 1658.13 L992.01 1657.52 L996.41 1656.77 L1000.8 1655.92 L1005.19 1654.98 L1009.58 1653.98 L1013.97 1652.93 L1018.37 1651.85 L1022.76 1650.76 L1027.15 1649.68 L1031.54 1648.64 L1035.94 1647.64 L1040.33 1646.68 L1044.72 1645.77 L1049.11 1644.9 L1053.51 1644.08 L1057.9 1643.3 L1062.29 1642.56 L1066.68 1641.86 L1071.08 1641.2 L1075.47 1640.59 L1079.86 1640.02 L1084.25 1639.49 L1088.65 1639 L1093.04 1638.57 L1097.43 1638.21 L1101.82 1637.91 L1106.22 1637.69 L1110.61 1637.55 L1115 1637.5" stroke="#ff0000" stroke-width="2.0" fill="none"/><path d="M1115 1601.5 L1119.42 1601.56 L1123.84 1601.72 L1128.25 1601.99 L1132.67 1602.33 L1137.09 1602.75 L1141.51 1603.23 L1145.92 1603.76 L1150.34 1604.33 L1154.76 1604.92 L1159.18 1605.53 L1163.59 1606.14 L1168.01 1606.74 L1172.43 1607.31 L1176.85 1607.86 L1181.27 1608.39 L1185.68 1608.88 L1190.1 1609.35 L1194.52 1609.79 L1198.94 1610.19 L1203.35 1610.57 L1207.77 1610.92 L1212.19 1611.24 L1216.61 1611.53 L1221.03 1611.79 L1225.44 1612.02 L1229.86 1612.22 L1234.28 1612.41 L1238.7 1612.59 L1243.11 1612.78 L1247.53 1613 L1251.95 1613.25 L1256.37 1613.56 L1260.78 1613.94 L1265.2 1614.4 L1269.62 1614.95 L1274.04 1615.6 L1278.46 1616.34 L1282.87 1617.14 L1287.29 1617.98 L1291.71 1618.83 L1296.13 1619.66 L1300.54 1620.46 L1304.96 1621.19 L1309.38 1621.83 L1313.8 1622.36 L1318.22 1622.74 L1322.63 1622.97 L1327.05 1623 L1331.47 1622.86 L1335.89 1622.54 L1340.3 1622.08 L1344.72 1621.48 L1349.14 1620.76 L1353.56 1619.95 L1357.97 1619.06 L1362.39 1618.1 L1366.81 1617.1 L1371.23 1616.07 L1375.65 1615.02 L1380.06 1613.99 L1384.48 1612.97 L1388.9 1611.98 L1393.32 1611.02 L1397.73 1610.09 L1402.15 1609.19 L1406.57 1608.33 L1410.99 1607.51 L1415.41 1606.73 L1419.82 1606 L1424.24 1605.32 L1428.66 1604.68 L1433.08 1604.1 L1437.49 1603.58 L1441.91 1603.12 L1446.33 1602.73 L1450.75 1602.42 L1455.16 1602.19 L1459.58 1602.05 L1464 1602" stroke="#0000ff" stroke-width="2.0" fill="none"/><path d="M1115 1731.5 L1119.42 1731.59 L1123.84 1731.77 L1128.25 1731.89 L1132.67 1731.79 L1137.09 1731.34 L1141.51 1730.39 L1145.92 1728.93 L1150.34 1727.06 L1154.76 1724.87 L1159.18 1722.46 L1163.59 1719.94 L1168.01 1717.37 L1172.43 1714.84 L1176.85 1712.42 L1181.27 1710.19 L1185.68 1708.21 L1190.1 1706.55 L1194.52 1705.17 L1198.94 1704.07 L1203.35 1703.21 L1207.77 1702.57 L1212.19 1702.13 L1216.61 1701.86 L1221.03 1701.75 L1225.44 1701.77 L1229.86 1701.9 L1234.28 1702.14 L1238.7 1702.45 L1243.11 1702.83 L1247.53 1703.24 L1251.95 1703.67 L1256.37 1704.08 L1260.78 1704.44 L1265.2 1704.7 L1269.62 1704.82 L1274.04 1704.79 L1278.46 1704.55 L1282.87 1704.08 L1287.29 1703.42 L1291.71 1702.63 L1296.13 1701.77 L1300.54 1700.89 L1304.96 1700.06 L1309.38 1699.3 L1313.8 1698.63 L1318.22 1698.09 L1322.63 1697.69 L1327.05 1697.46 L1331.47 1697.43 L1335.89 1697.57 L1340.3 1697.88 L1344.72 1698.34 L1349.14 1698.95 L1353.56 1699.7 L1357.97 1700.56 L1362.39 1701.54 L1366.81 1702.62 L1371.23 1703.79 L1375.65 1705.04 L1380.06 1706.37 L1384.48 1707.76 L1388.9 1709.2 L1393.32 1710.69 L1397.73 1712.21 L1402.15 1713.76 L1406.57 1715.32 L1410.99 1716.9 L1415.41 1718.48 L1419.82 1720.06 L1424.24 1721.62 L1428.66 1723.17 L1433.08 1724.69 L1437.49 1726.17 L1441.91 1727.62 L1446.33 1728.98 L1450.75 1730.18 L1455.16 1731.14 L1459.58 1731.77 L1464 1732" stroke="#ff0000" stroke-width="2.0" fill="none"/><g stroke="#000" stroke-width="2.2" fill="none"><rect x="79" y="1412.2" width="1385" height="374.89999999999986"/><line x1="421.5" y1="1412.2" x2="421.5" y2="1787.1"/><line x1="767.8" y1="1412.2" x2="767.8" y2="1787.1"/><line x1="1114.8" y1="1412.2" x2="1114.8" y2="1787.1"/></g><g stroke="#000" stroke-width="1.9"><line x1="72" y1="1412.2" x2="79" y2="1412.2"/><line x1="72" y1="1599.8" x2="79" y2="1599.8"/><line x1="72" y1="1787.1" x2="79" y2="1787.1"/><line x1="75" y1="1506" x2="79" y2="1506"/><line x1="75" y1="1693.4" x2="79" y2="1693.4"/><line x1="79" y1="1787.1" x2="79" y2="1793.3999999999999"/><line x1="181" y1="1787.1" x2="181" y2="1793.3999999999999"/><line x1="294" y1="1787.1" x2="294" y2="1793.3999999999999"/><line x1="421.5" y1="1787.1" x2="421.5" y2="1793.3999999999999"/><line x1="525.5" y1="1787.1" x2="525.5" y2="1793.3999999999999"/><line x1="646" y1="1787.1" x2="646" y2="1793.3999999999999"/><line x1="767.8" y1="1787.1" x2="767.8" y2="1793.3999999999999"/><line x1="877.2" y1="1787.1" x2="877.2" y2="1793.3999999999999"/><line x1="993.1" y1="1787.1" x2="993.1" y2="1793.3999999999999"/><line x1="1114.8" y1="1787.1" x2="1114.8" y2="1793.3999999999999"/><line x1="1226" y1="1787.1" x2="1226" y2="1793.3999999999999"/><line x1="1340.7" y1="1787.1" x2="1340.7" y2="1793.3999999999999"/><line x1="1464" y1="1787.1" x2="1464" y2="1793.3999999999999"/></g><text x="65.4" y="1421.9" fill="#000" text-anchor="end" style="font-family:'Liberation Sans',sans-serif;font-size:33.5px;" >-3.6</text><text x="65.4" y="1609.5" fill="#000" text-anchor="end" style="font-family:'Liberation Sans',sans-serif;font-size:33.5px;" >-3.9</text><text x="65.4" y="1796.8" fill="#000" text-anchor="end" style="font-family:'Liberation Sans',sans-serif;font-size:33.5px;" >-4.2</text><text x="71.6" y="1828.2" fill="#000" text-anchor="start" style="font-family:'Liberation Serif',serif;font-size:37.5px;" >Γ</text><text x="168.6" y="1826.8" fill="#000" text-anchor="start" style="font-family:'Liberation Sans',sans-serif;font-size:37.5px;" >X</text><text x="279.7" y="1822.9" fill="#000" text-anchor="start" style="font-family:'Liberation Sans',sans-serif;font-size:36.5px;" >M</text><text x="413.4" y="1825.5" fill="#000" text-anchor="start" style="font-family:'Liberation Serif',serif;font-size:37.5px;" >Γ</text><text x="513.2" y="1827.5" fill="#000" text-anchor="start" style="font-family:'Liberation Sans',sans-serif;font-size:37.5px;" >X</text><text x="629.9" y="1827.2" fill="#000" text-anchor="start" style="font-family:'Liberation Sans',sans-serif;font-size:36.5px;" >M</text><text x="759.7" y="1823.9" fill="#000" text-anchor="start" style="font-family:'Liberation Serif',serif;font-size:37.5px;" >Γ</text><text x="864.6" y="1827.1" fill="#000" text-anchor="start" style="font-family:'Liberation Sans',sans-serif;font-size:37.5px;" >X</text><text x="977.8" y="1822.9" fill="#000" text-anchor="start" style="font-family:'Liberation Sans',sans-serif;font-size:36.5px;" >M</text><text x="1108.6" y="1822.6" fill="#000" text-anchor="start" style="font-family:'Liberation Serif',serif;font-size:37.5px;" >Γ</text><text x="1214" y="1823.2" fill="#000" text-anchor="start" style="font-family:'Liberation Sans',sans-serif;font-size:37.5px;" >X</text><text x="1325.9" y="1822.5" fill="#000" text-anchor="start" style="font-family:'Liberation Sans',sans-serif;font-size:36.5px;" >M</text><text x="1453.7" y="1822.6" fill="#000" text-anchor="start" style="font-family:'Liberation Serif',serif;font-size:37.5px;" >Γ</text><text x="98.2" y="1466.1" fill="#000" text-anchor="start" style="font-family:'Liberation Serif',serif;font-size:44.6px;" >β</text><rect x="1234" y="1460.5" width="151" height="138.5" fill="none" stroke="#000" stroke-width="3"/><path d="M1309.5 1534 L1385 1534 L1385 1461 Z" fill="#ff0000" stroke="#000" stroke-width="2.8"/><line x1="1309.5" y1="1534" x2="1385" y2="1461" stroke="#000" stroke-width="6.2"/><g stroke="#000" stroke-width="3"><line x1="1309.3" y1="1535" x2="1309.3" y2="1443"/><line x1="1385" y1="1530.4" x2="1414" y2="1530.4"/></g><path d="M1309.3 1421.8 L1303.1 1444.8 H1315.5 Z" fill="#000"/><path d="M1435 1530.4 L1412.8 1524.2 V1536.6 Z" fill="#000"/><text x="1279.5" y="1442" fill="#000" text-anchor="start" style="font-family:'Liberation Sans',sans-serif;font-size:21px;" >k</text><text x="1290.5" y="1448" fill="#000" text-anchor="start" style="font-family:'Liberation Sans',sans-serif;font-size:21px;" >y</text><text x="1403" y="1556.5" fill="#000" text-anchor="start" style="font-family:'Liberation Sans',sans-serif;font-size:21px;" >k</text><text x="1414.5" y="1561" fill="#000" text-anchor="start" style="font-family:'Liberation Sans',sans-serif;font-size:21px;" >x</text><text x="1385.6" y="1464.9" fill="#000" text-anchor="start" style="font-family:'Liberation Sans',sans-serif;font-size:29.5px;" >M</text><text x="1387.8" y="1522.2" fill="#000" text-anchor="start" style="font-family:'Liberation Sans',sans-serif;font-size:32px;" >X</text><text x="1288" y="1544.8" fill="#000" text-anchor="start" style="font-family:'Liberation Serif',serif;font-size:27.5px;" >Γ</text><path d="M80.9 2020 L84.37 2020.01 L87.83 2020.06 L91.3 2020.13 L94.77 2020.23 L98.23 2020.36 L101.7 2020.53 L105.17 2020.72 L108.64 2020.95 L112.1 2021.2 L115.57 2021.5 L119.04 2021.83 L122.5 2022.2 L125.97 2022.6 L129.44 2023.05 L132.9 2023.54 L136.37 2024.07 L139.84 2024.64 L143.3 2025.26 L146.77 2025.93 L150.24 2026.64 L153.71 2027.41 L157.17 2028.23 L160.64 2029.09 L164.11 2030.01 L167.57 2030.99 L171.04 2032.01 L174.51 2033.09 L177.97 2034.23 L181.44 2035.41 L184.91 2036.66 L188.37 2037.95 L191.84 2039.3 L195.31 2040.7 L198.78 2042.14 L202.24 2043.64 L205.71 2045.18 L209.18 2046.77 L212.64 2048.4 L216.11 2050.07 L219.58 2051.78 L223.04 2053.52 L226.51 2055.3 L229.98 2057.1 L233.44 2058.93 L236.91 2060.78 L240.38 2062.65 L243.85 2064.53 L247.31 2066.43 L250.78 2068.33 L254.25 2070.24 L257.71 2072.14 L261.18 2074.04 L264.65 2075.94 L268.11 2077.82 L271.58 2079.68 L275.05 2081.53 L278.51 2083.35 L281.98 2085.15 L285.45 2086.92 L288.92 2088.65 L292.38 2090.35 L295.85 2092.01 L299.32 2093.63 L302.78 2095.21 L306.25 2096.74 L309.72 2098.22 L313.18 2099.66 L316.65 2101.04 L320.12 2102.38 L323.58 2103.66 L327.05 2104.89 L330.52 2106.06 L333.98 2107.18 L337.45 2108.25 L340.92 2109.26 L344.39 2110.22 L347.85 2111.13 L351.32 2111.98 L354.79 2112.79 L358.25 2113.54 L361.72 2114.24 L365.19 2114.9 L368.65 2115.51 L372.12 2116.07 L375.59 2116.59 L379.05 2117.07 L382.52 2117.5 L385.99 2117.9 L389.46 2118.26 L392.92 2118.58 L396.39 2118.86 L399.86 2119.11 L403.32 2119.33 L406.79 2119.52 L410.26 2119.67 L413.72 2119.8 L417.19 2119.89 L420.66 2119.96 L424.12 2119.99 L427.59 2120 L431.06 2119.98 L434.53 2119.93 L437.99 2119.85 L441.46 2119.74 L444.93 2119.6 L448.39 2119.43 L451.86 2119.23 L455.33 2118.99 L458.79 2118.72 L462.26 2118.42 L465.73 2118.08 L469.19 2117.71 L472.66 2117.29 L476.13 2116.83 L479.6 2116.34 L483.06 2115.79 L486.53 2115.21 L490 2114.58 L493.46 2113.9 L496.93 2113.17 L500.4 2112.39 L503.86 2111.56 L507.33 2110.68 L510.8 2109.75 L514.26 2108.76 L517.73 2107.72 L521.2 2106.63 L524.67 2105.48 L528.13 2104.28 L531.6 2103.03 L535.07 2101.72 L538.53 2100.36 L542 2098.95 L545.47 2097.49 L548.93 2095.98 L552.4 2094.42 L555.87 2092.83 L559.33 2091.19 L562.8 2089.51 L566.27 2087.79 L569.74 2086.04 L573.2 2084.25 L576.67 2082.44 L580.14 2080.61 L583.6 2078.75 L587.07 2076.88 L590.54 2074.99 L594 2073.09 L597.47 2071.19 L600.94 2069.29 L604.4 2067.38 L607.87 2065.48 L611.34 2063.59 L614.81 2061.71 L618.27 2059.85 L621.74 2058.01 L625.21 2056.2 L628.67 2054.41 L632.14 2052.65 L635.61 2050.92 L639.07 2049.23 L642.54 2047.58 L646.01 2045.97 L649.47 2044.41 L652.94 2042.89 L656.41 2041.41 L659.88 2039.99 L663.34 2038.62 L666.81 2037.3 L670.28 2036.03 L673.74 2034.81 L677.21 2033.65 L680.68 2032.55 L684.14 2031.49 L687.61 2030.49 L691.08 2029.55 L694.54 2028.65 L698.01 2027.81 L701.48 2027.02 L704.95 2026.28 L708.41 2025.59 L711.88 2024.94 L715.35 2024.35 L718.81 2023.8 L722.28 2023.29 L725.75 2022.82 L729.21 2022.39 L732.68 2022.01 L736.15 2021.66 L739.61 2021.35 L743.08 2021.07 L746.55 2020.83 L750.02 2020.62 L753.48 2020.44 L756.95 2020.29 L760.42 2020.18 L763.88 2020.09 L767.35 2020.03 L770.82 2020 L774.28 2020 L777.75 2020.03 L781.22 2020.09 L784.68 2020.18 L788.15 2020.29 L791.62 2020.44 L795.08 2020.62 L798.55 2020.83 L802.02 2021.07 L805.49 2021.35 L808.95 2021.66 L812.42 2022.01 L815.89 2022.39 L819.35 2022.82 L822.82 2023.29 L826.29 2023.8 L829.75 2024.35 L833.22 2024.94 L836.69 2025.59 L840.15 2026.28 L843.62 2027.02 L847.09 2027.81 L850.56 2028.65 L854.02 2029.55 L857.49 2030.49 L860.96 2031.49 L864.42 2032.55 L867.89 2033.65 L871.36 2034.81 L874.82 2036.03 L878.29 2037.3 L881.76 2038.62 L885.22 2039.99 L888.69 2041.41 L892.16 2042.89 L895.63 2044.41 L899.09 2045.97 L902.56 2047.58 L906.03 2049.23 L909.49 2050.92 L912.96 2052.65 L916.43 2054.41 L919.89 2056.2 L923.36 2058.01 L926.83 2059.85 L930.29 2061.71 L933.76 2063.59 L937.23 2065.48 L940.7 2067.38 L944.16 2069.29 L947.63 2071.19 L951.1 2073.09 L954.56 2074.99 L958.03 2076.88 L961.5 2078.75 L964.96 2080.61 L968.43 2082.44 L971.9 2084.25 L975.36 2086.04 L978.83 2087.79 L982.3 2089.51 L985.77 2091.19 L989.23 2092.83 L992.7 2094.42 L996.17 2095.98 L999.63 2097.49 L1003.1 2098.95 L1006.57 2100.36 L1010.03 2101.72 L1013.5 2103.03 L1016.97 2104.28 L1020.43 2105.48 L1023.9 2106.63 L1027.37 2107.72 L1030.84 2108.76 L1034.3 2109.75 L1037.77 2110.68 L1041.24 2111.56 L1044.7 2112.39 L1048.17 2113.17 L1051.64 2113.9 L1055.1 2114.58 L1058.57 2115.21 L1062.04 2115.79 L1065.5 2116.34 L1068.97 2116.83 L1072.44 2117.29 L1075.91 2117.71 L1079.37 2118.08 L1082.84 2118.42 L1086.31 2118.72 L1089.77 2118.99 L1093.24 2119.23 L1096.71 2119.43 L1100.17 2119.6 L1103.64 2119.74 L1107.11 2119.85 L1110.57 2119.93 L1114.04 2119.98 L1117.51 2120 L1120.98 2119.99 L1124.44 2119.96 L1127.91 2119.89 L1131.38 2119.8 L1134.84 2119.67 L1138.31 2119.52 L1141.78 2119.33 L1145.24 2119.11 L1148.71 2118.86 L1152.18 2118.58 L1155.64 2118.26 L1159.11 2117.9 L1162.58 2117.5 L1166.05 2117.07 L1169.51 2116.59 L1172.98 2116.07 L1176.45 2115.51 L1179.91 2114.9 L1183.38 2114.24 L1186.85 2113.54 L1190.31 2112.79 L1193.78 2111.98 L1197.25 2111.13 L1200.71 2110.22 L1204.18 2109.26 L1207.65 2108.25 L1211.12 2107.18 L1214.58 2106.06 L1218.05 2104.89 L1221.52 2103.66 L1224.98 2102.38 L1228.45 2101.04 L1231.92 2099.66 L1235.38 2098.22 L1238.85 2096.74 L1242.32 2095.21 L1245.78 2093.63 L1249.25 2092.01 L1252.72 2090.35 L1256.18 2088.65 L1259.65 2086.92 L1263.12 2085.15 L1266.59 2083.35 L1270.05 2081.53 L1273.52 2079.68 L1276.99 2077.82 L1280.45 2075.94 L1283.92 2074.04 L1287.39 2072.14 L1290.85 2070.24 L1294.32 2068.33 L1297.79 2066.43 L1301.25 2064.53 L1304.72 2062.65 L1308.19 2060.78 L1311.66 2058.93 L1315.12 2057.1 L1318.59 2055.3 L1322.06 2053.52 L1325.52 2051.78 L1328.99 2050.07 L1332.46 2048.4 L1335.92 2046.77 L1339.39 2045.18 L1342.86 2043.64 L1346.32 2042.14 L1349.79 2040.7 L1353.26 2039.3 L1356.73 2037.95 L1360.19 2036.66 L1363.66 2035.41 L1367.13 2034.23 L1370.59 2033.09 L1374.06 2032.01 L1377.53 2030.99 L1380.99 2030.01 L1384.46 2029.09 L1387.93 2028.23 L1391.39 2027.41 L1394.86 2026.64 L1398.33 2025.93 L1401.8 2025.26 L1405.26 2024.64 L1408.73 2024.07 L1412.2 2023.54 L1415.66 2023.05 L1419.13 2022.6 L1422.6 2022.2 L1426.06 2021.83 L1429.53 2021.5 L1433 2021.2 L1436.46 2020.95 L1439.93 2020.72 L1443.4 2020.53 L1446.87 2020.36 L1450.33 2020.23 L1453.8 2020.13 L1457.27 2020.06 L1460.73 2020.01 L1464.2 2020" stroke="#0000ff" stroke-width="2.1" fill="none"/><path d="M80.9 2140.5 L84.37 2140.5 L87.83 2140.49 L91.3 2140.47 L94.77 2140.43 L98.23 2140.38 L101.7 2140.31 L105.17 2140.21 L108.64 2140.09 L112.1 2139.94 L115.57 2139.76 L119.04 2139.55 L122.5 2139.29 L125.97 2139 L129.44 2138.67 L132.9 2138.31 L136.37 2137.92 L139.84 2137.51 L143.3 2137.09 L146.77 2136.65 L150.24 2136.21 L153.71 2135.77 L157.17 2135.33 L160.64 2134.89 L164.11 2134.48 L167.57 2134.07 L171.04 2133.69 L174.51 2133.32 L177.97 2132.98 L181.44 2132.65 L184.91 2132.35 L188.37 2132.06 L191.84 2131.8 L195.31 2131.56 L198.78 2131.35 L202.24 2131.15 L205.71 2130.99 L209.18 2130.84 L212.64 2130.72 L216.11 2130.63 L219.58 2130.56 L223.04 2130.51 L226.51 2130.48 L229.98 2130.48 L233.44 2130.5 L236.91 2130.55 L240.38 2130.62 L243.85 2130.73 L247.31 2130.89 L250.78 2131.09 L254.25 2131.35 L257.71 2131.67 L261.18 2132.05 L264.65 2132.52 L268.11 2133.06 L271.58 2133.69 L275.05 2134.4 L278.51 2135.2 L281.98 2136.09 L285.45 2137.08 L288.92 2138.17 L292.38 2139.36 L295.85 2140.65 L299.32 2142.04 L302.78 2143.52 L306.25 2145.09 L309.72 2146.75 L313.18 2148.49 L316.65 2150.32 L320.12 2152.22 L323.58 2154.19 L327.05 2156.24 L330.52 2158.35 L333.98 2160.54 L337.45 2162.78 L340.92 2165.09 L344.39 2167.45 L347.85 2169.87 L351.32 2172.31 L354.79 2174.77 L358.25 2177.21 L361.72 2179.62 L365.19 2181.98 L368.65 2184.26 L372.12 2186.45 L375.59 2188.53 L379.05 2190.49 L382.52 2192.31 L385.99 2194.01 L389.46 2195.55 L392.92 2196.94 L396.39 2198.17 L399.86 2199.23 L403.32 2200.11 L406.79 2200.84 L410.26 2201.41 L413.72 2201.85 L417.19 2202.17 L420.66 2202.37 L424.12 2202.48 L427.59 2202.5 L431.06 2202.44 L434.53 2202.28 L437.99 2202.02 L441.46 2201.65 L444.93 2201.14 L448.39 2200.49 L451.86 2199.69 L455.33 2198.72 L458.79 2197.58 L462.26 2196.27 L465.73 2194.8 L469.19 2193.18 L472.66 2191.42 L476.13 2189.52 L479.6 2187.5 L483.06 2185.37 L486.53 2183.13 L490 2180.81 L493.46 2178.42 L496.93 2175.99 L500.4 2173.54 L503.86 2171.09 L507.33 2168.66 L510.8 2166.26 L514.26 2163.93 L517.73 2161.65 L521.2 2159.44 L524.67 2157.29 L528.13 2155.21 L531.6 2153.19 L535.07 2151.26 L538.53 2149.39 L542 2147.61 L545.47 2145.91 L548.93 2144.3 L552.4 2142.77 L555.87 2141.33 L559.33 2140 L562.8 2138.75 L566.27 2137.61 L569.74 2136.57 L573.2 2135.63 L576.67 2134.79 L580.14 2134.03 L583.6 2133.36 L587.07 2132.78 L590.54 2132.28 L594 2131.85 L597.47 2131.5 L600.94 2131.21 L604.4 2130.98 L607.87 2130.8 L611.34 2130.67 L614.81 2130.58 L618.27 2130.52 L621.74 2130.49 L625.21 2130.48 L628.67 2130.49 L632.14 2130.53 L635.61 2130.59 L639.07 2130.67 L642.54 2130.78 L646.01 2130.91 L649.47 2131.07 L652.94 2131.25 L656.41 2131.45 L659.88 2131.68 L663.34 2131.93 L666.81 2132.2 L670.28 2132.5 L673.74 2132.81 L677.21 2133.15 L680.68 2133.5 L684.14 2133.88 L687.61 2134.27 L691.08 2134.68 L694.54 2135.11 L698.01 2135.55 L701.48 2135.99 L704.95 2136.43 L708.41 2136.87 L711.88 2137.3 L715.35 2137.72 L718.81 2138.12 L722.28 2138.49 L725.75 2138.84 L729.21 2139.15 L732.68 2139.42 L736.15 2139.66 L739.61 2139.86 L743.08 2140.02 L746.55 2140.16 L750.02 2140.26 L753.48 2140.35 L756.95 2140.41 L760.42 2140.45 L763.88 2140.48 L767.35 2140.49 L770.82 2140.5 L774.28 2140.5 L777.75 2140.49 L781.22 2140.48 L784.68 2140.45 L788.15 2140.41 L791.62 2140.35 L795.08 2140.26 L798.55 2140.16 L802.02 2140.02 L805.49 2139.86 L808.95 2139.66 L812.42 2139.42 L815.89 2139.15 L819.35 2138.84 L822.82 2138.49 L826.29 2138.12 L829.75 2137.72 L833.22 2137.3 L836.69 2136.87 L840.15 2136.43 L843.62 2135.99 L847.09 2135.55 L850.56 2135.11 L854.02 2134.68 L857.49 2134.27 L860.96 2133.88 L864.42 2133.5 L867.89 2133.15 L871.36 2132.81 L874.82 2132.5 L878.29 2132.2 L881.76 2131.93 L885.22 2131.68 L888.69 2131.45 L892.16 2131.25 L895.63 2131.07 L899.09 2130.91 L902.56 2130.78 L906.03 2130.67 L909.49 2130.59 L912.96 2130.53 L916.43 2130.49 L919.89 2130.48 L923.36 2130.49 L926.83 2130.52 L930.29 2130.58 L933.76 2130.67 L937.23 2130.8 L940.7 2130.98 L944.16 2131.21 L947.63 2131.5 L951.1 2131.85 L954.56 2132.28 L958.03 2132.78 L961.5 2133.36 L964.96 2134.03 L968.43 2134.79 L971.9 2135.63 L975.36 2136.57 L978.83 2137.61 L982.3 2138.75 L985.77 2140 L989.23 2141.33 L992.7 2142.77 L996.17 2144.3 L999.63 2145.91 L1003.1 2147.61 L1006.57 2149.39 L1010.03 2151.26 L1013.5 2153.19 L1016.97 2155.21 L1020.43 2157.29 L1023.9 2159.44 L1027.37 2161.65 L1030.84 2163.93 L1034.3 2166.26 L1037.77 2168.66 L1041.24 2171.09 L1044.7 2173.54 L1048.17 2175.99 L1051.64 2178.42 L1055.1 2180.81 L1058.57 2183.13 L1062.04 2185.37 L1065.5 2187.5 L1068.97 2189.52 L1072.44 2191.42 L1075.91 2193.18 L1079.37 2194.8 L1082.84 2196.27 L1086.31 2197.58 L1089.77 2198.72 L1093.24 2199.69 L1096.71 2200.49 L1100.17 2201.14 L1103.64 2201.65 L1107.11 2202.02 L1110.57 2202.28 L1114.04 2202.44 L1117.51 2202.5 L1120.98 2202.48 L1124.44 2202.37 L1127.91 2202.17 L1131.38 2201.85 L1134.84 2201.41 L1138.31 2200.84 L1141.78 2200.11 L1145.24 2199.23 L1148.71 2198.17 L1152.18 2196.94 L1155.64 2195.55 L1159.11 2194.01 L1162.58 2192.31 L1166.05 2190.49 L1169.51 2188.53 L1172.98 2186.45 L1176.45 2184.26 L1179.91 2181.98 L1183.38 2179.62 L1186.85 2177.21 L1190.31 2174.77 L1193.78 2172.31 L1197.25 2169.87 L1200.71 2167.45 L1204.18 2165.09 L1207.65 2162.78 L1211.12 2160.54 L1214.58 2158.35 L1218.05 2156.24 L1221.52 2154.19 L1224.98 2152.22 L1228.45 2150.32 L1231.92 2148.49 L1235.38 2146.75 L1238.85 2145.09 L1242.32 2143.52 L1245.78 2142.04 L1249.25 2140.65 L1252.72 2139.36 L1256.18 2138.17 L1259.65 2137.08 L1263.12 2136.09 L1266.59 2135.2 L1270.05 2134.4 L1273.52 2133.69 L1276.99 2133.06 L1280.45 2132.52 L1283.92 2132.05 L1287.39 2131.67 L1290.85 2131.35 L1294.32 2131.09 L1297.79 2130.89 L1301.25 2130.73 L1304.72 2130.62 L1308.19 2130.55 L1311.66 2130.5 L1315.12 2130.48 L1318.59 2130.48 L1322.06 2130.51 L1325.52 2130.56 L1328.99 2130.63 L1332.46 2130.72 L1335.92 2130.84 L1339.39 2130.99 L1342.86 2131.15 L1346.32 2131.35 L1349.79 2131.56 L1353.26 2131.8 L1356.73 2132.06 L1360.19 2132.35 L1363.66 2132.65 L1367.13 2132.98 L1370.59 2133.32 L1374.06 2133.69 L1377.53 2134.07 L1380.99 2134.48 L1384.46 2134.89 L1387.93 2135.33 L1391.39 2135.77 L1394.86 2136.21 L1398.33 2136.65 L1401.8 2137.09 L1405.26 2137.51 L1408.73 2137.92 L1412.2 2138.31 L1415.66 2138.67 L1419.13 2139 L1422.6 2139.29 L1426.06 2139.55 L1429.53 2139.76 L1433 2139.94 L1436.46 2140.09 L1439.93 2140.21 L1443.4 2140.31 L1446.87 2140.38 L1450.33 2140.43 L1453.8 2140.47 L1457.27 2140.49 L1460.73 2140.5 L1464.2 2140.5" stroke="#ff0000" stroke-width="2.1" fill="none"/><rect x="80.9" y="1912.6" width="1383.3" height="375.5999999999999" fill="none" stroke="#000" stroke-width="2.3"/><g stroke="#000" stroke-width="1.9"><line x1="68" y1="1912.6" x2="80.9" y2="1912.6"/><line x1="68" y1="2100.4" x2="80.9" y2="2100.4"/><line x1="68" y1="2288.2" x2="80.9" y2="2288.2"/><line x1="74" y1="2006.6" x2="80.9" y2="2006.6"/><line x1="74" y1="2194.4" x2="80.9" y2="2194.4"/><line x1="80.9" y1="2288.2" x2="80.9" y2="2300.2"/><line x1="357.56" y1="2288.2" x2="357.56" y2="2300.2"/><line x1="634.22" y1="2288.2" x2="634.22" y2="2300.2"/><line x1="910.88" y1="2288.2" x2="910.88" y2="2300.2"/><line x1="1187.54" y1="2288.2" x2="1187.54" y2="2300.2"/><line x1="1464.2" y1="2288.2" x2="1464.2" y2="2300.2"/><line x1="219.23" y1="2288.2" x2="219.23" y2="2294.7"/><line x1="495.89" y1="2288.2" x2="495.89" y2="2294.7"/><line x1="772.55" y1="2288.2" x2="772.55" y2="2294.7"/><line x1="1049.21" y1="2288.2" x2="1049.21" y2="2294.7"/><line x1="1325.87" y1="2288.2" x2="1325.87" y2="2294.7"/></g><text x="60.5" y="1922.9" fill="#000" text-anchor="end" style="font-family:'Liberation Sans',sans-serif;font-size:34.3px;" >-3.6</text><text x="60.5" y="2110.7" fill="#000" text-anchor="end" style="font-family:'Liberation Sans',sans-serif;font-size:34.3px;" >-3.9</text><text x="60.5" y="2298.5" fill="#000" text-anchor="end" style="font-family:'Liberation Sans',sans-serif;font-size:34.3px;" >-4.2</text><text x="81.2" y="2333.3" fill="#000" text-anchor="middle" style="font-family:'Liberation Sans',sans-serif;font-size:34px;" >0.0</text><text x="357.86" y="2333.3" fill="#000" text-anchor="middle" style="font-family:'Liberation Sans',sans-serif;font-size:34px;" >0.2</text><text x="634.52" y="2333.3" fill="#000" text-anchor="middle" style="font-family:'Liberation Sans',sans-serif;font-size:34px;" >0.4</text><text x="911.18" y="2333.3" fill="#000" text-anchor="middle" style="font-family:'Liberation Sans',sans-serif;font-size:34px;" >0.6</text><text x="1187.84" y="2333.3" fill="#000" text-anchor="middle" style="font-family:'Liberation Sans',sans-serif;font-size:34px;" >0.8</text><text x="1464.5" y="2333.3" fill="#000" text-anchor="middle" style="font-family:'Liberation Sans',sans-serif;font-size:34px;" >1.0</text><text x="743.2" y="2376" fill="#000" text-anchor="start" style="font-family:'Liberation Sans',sans-serif;font-size:38.8px;" >z/Z</text><text x="99.5" y="1966.5" fill="#000" text-anchor="start" style="font-family:'Liberation Serif',serif;font-size:44.6px;" >β</text><text x="1411" y="1969.4" fill="#000" text-anchor="start" style="font-family:'Liberation Sans',sans-serif;font-size:71px;" >c</text><rect x="911" y="1930" width="414" height="99" fill="#fff" stroke="#000" stroke-width="1.6"/><line x1="928" y1="1963.5" x2="1000" y2="1963.5" stroke="#0000ff" stroke-width="1.8"/><line x1="928" y1="2011.5" x2="1000" y2="2011.5" stroke="#ff0000" stroke-width="1.8"/><text x="1006.5" y="1973.8" style="font-family:'Liberation Sans',sans-serif;font-size:31.5px;">Bottom of the 1<tspan dy="-13" font-size="24">st</tspan><tspan dy="13"> band</tspan></text><text x="1006.5" y="2021.6" style="font-family:'Liberation Sans',sans-serif;font-size:31.5px;">Top of the 2<tspan dy="-13" dx="1" font-size="25">nd</tspan><tspan dy="13" dx="2.5"> band</tspan></text></g>
</svg></body></html>
